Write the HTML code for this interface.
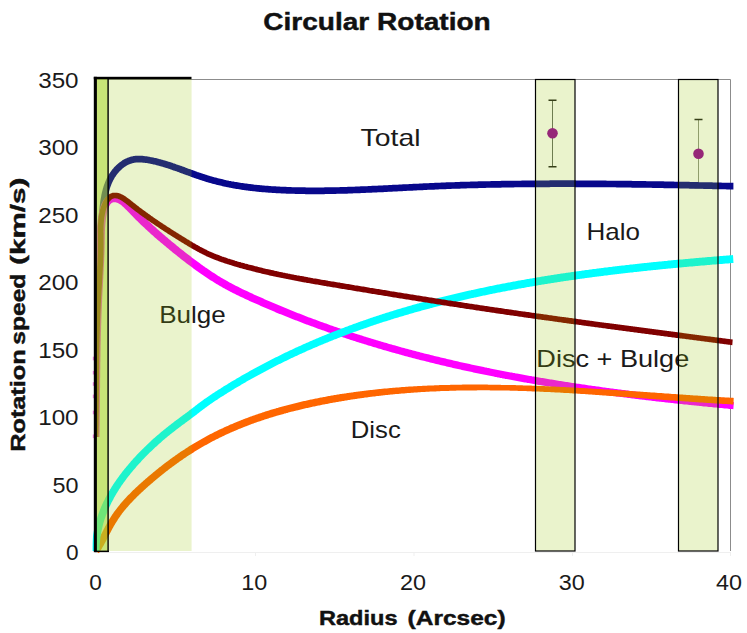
<!DOCTYPE html>
<html><head><meta charset="utf-8"><title>Circular Rotation</title>
<style>html,body{margin:0;padding:0;background:#fff;}body{width:747px;height:633px;overflow:hidden;font-family:"Liberation Sans",sans-serif;}svg{display:block}</style></head>
<body>
<svg width="747" height="633" viewBox="0 0 747 633" font-family="'Liberation Sans', sans-serif">
<rect width="747" height="633" fill="#ffffff"/>
<path d="M97,552.5 H731 M255.5,552 V556 M414,552 V556 M572.5,552 V556 M730.5,552 V556" fill="none" stroke="#efefef" stroke-width="1"/>
<path d="M97,79.5 H730.5 V551" fill="none" stroke="#8c8c8c" stroke-width="1"/>
<clipPath id="cp"><rect x="92.6" y="70" width="641.2" height="483.5"/></clipPath>
<clipPath id="cp2"><rect x="94" y="70" width="639.8" height="483.5"/></clipPath>
<path d="M552.5,100.2 V166.8" fill="none" stroke="#646b64" stroke-width="1"/><path d="M548.5,100.2 H556.5 M548.5,166.8 H556.5" fill="none" stroke="#1f1f1f" stroke-width="1.5"/><circle cx="552.5" cy="133.3" r="5.3" fill="#960096"/><path d="M698.5,119.6 V187.6" fill="none" stroke="#8f9488" stroke-width="1"/><path d="M694.5,119.6 H702.5 M694.5,187.6 H702.5" fill="none" stroke="#1f1f1f" stroke-width="1.5"/><circle cx="698.5" cy="153.8" r="5.3" fill="#960096"/>
<g clip-path="url(#cp2)">
<path d="M95.4,437.1 L95.4,435.8 L95.4,434.5 L95.5,433.2 L95.5,431.9 L95.5,430.6 L95.5,429.3 L95.6,428.0 L95.6,426.7 L95.6,425.5 L95.6,424.2 L95.6,422.9 L95.6,421.6 L95.7,420.3 L95.7,419.0 L95.7,417.7 L95.7,416.4 L95.7,415.1 L95.7,413.8 L95.8,412.5 L95.8,411.2 L95.8,410.0 L95.8,408.7 L95.8,407.4 L95.8,406.1 L95.8,404.8 L95.9,403.5 L95.9,402.2 L95.9,401.0 L95.9,399.7 L95.9,398.4 L95.9,397.1 L95.9,395.8 L95.9,394.5 L95.9,393.3 L96.0,392.0 L96.0,390.7 L96.0,389.4 L96.0,388.1 L96.0,386.9 L96.0,385.6 L96.0,384.3 L96.0,383.0 L96.0,381.7 L96.1,380.5 L96.1,379.2 L96.1,377.9 L96.1,376.6 L96.1,375.4 L96.1,374.1 L96.1,372.8 L96.1,371.5 L96.1,370.2 L96.2,369.0 L96.2,367.7 L96.2,366.4 L96.2,365.1 L96.2,363.9 L96.2,362.6 L96.2,361.3 L96.2,360.1 L96.2,358.8 L96.3,357.5 L96.3,356.2 L96.3,355.0 L96.3,353.7 L96.3,352.4 L96.3,351.1 L96.3,349.9 L96.4,348.6 L96.4,347.3 L96.4,346.1 L96.4,344.8 L96.4,343.5 L96.4,342.2 L96.4,341.0 L96.5,339.7 L96.5,338.4 L96.5,337.2 L96.5,335.9 L96.5,334.6 L96.6,333.3 L96.6,332.1 L96.6,330.8 L96.6,329.5 L96.6,328.3 L96.7,327.0 L96.7,325.7 L96.7,324.4 L96.7,323.2 L96.8,321.9 L96.8,320.6 L96.8,319.4 L96.8,318.1 L96.9,316.8 L96.9,315.5 L96.9,314.3 L96.9,313.0 L97.0,311.7 L97.0,310.5 L97.0,309.2 L97.1,307.9 L97.1,306.6 L97.1,305.4 L97.2,304.1 L97.2,302.8 L97.2,301.6 L97.3,300.3 L97.3,299.0 L97.3,297.7 L97.4,296.5 L97.4,295.2 L97.5,293.9 L97.5,292.6 L97.5,291.4 L97.6,290.1 L97.6,288.8 L97.7,287.5 L97.7,286.3 L97.8,285.0 L97.8,283.7 L97.9,282.4 L97.9,281.2 L98.0,279.9 L98.0,278.6 L98.1,277.3 L98.1,276.1 L98.2,274.8 L98.2,273.5 L98.3,272.2 L98.4,270.9 L98.4,269.7 L98.5,268.4 L98.5,267.1 L98.6,265.8 L98.7,264.5 L98.7,263.3 L98.8,262.0 L98.9,260.7 L98.9,259.4 L99.0,258.1 L99.1,256.8 L99.2,255.6 L99.2,254.3 L99.3,253.0 L99.4,251.7 L99.5,250.4 L99.5,249.1 L99.6,247.8 L99.7,246.6 L99.8,245.3 L99.9,244.0 L100.0,242.7 L100.0,241.4 L100.1,240.1 L100.2,238.8 L100.3,237.5 L100.4,236.2 L100.5,234.9 L100.6,233.7 L100.7,232.4 L100.8,231.1 L100.9,229.8 L101.0,228.5 L101.1,227.2 L101.2,225.9 L101.3,224.6 L101.4,223.3 L101.5,222.0 L101.7,220.7 L101.8,219.4 L101.9,218.1 L102.0,216.8 L102.1,215.5 L102.2,214.2 L102.4,212.9 L102.5,211.6 L102.6,210.3 L102.8,209.0 L102.9,207.7 L103.0,206.4 L103.2,205.1 L103.4,203.8 L103.5,202.5 L103.7,201.2 L103.9,199.9 L104.1,198.7 L104.4,197.4 L104.6,196.1 L104.8,194.9 L105.1,193.6 L105.4,192.4 L105.7,191.2 L106.0,189.9 L106.4,188.7 L106.7,187.5 L107.1,186.3 L107.5,185.2 L108.0,184.0 L108.4,182.8 L108.9,181.7 L109.4,180.6 L109.9,179.5 L110.5,178.4 L111.1,177.3 L111.7,176.2 L112.4,175.2 L113.1,174.1 L113.8,173.1 L114.5,172.1 L115.3,171.1 L116.2,170.2 L117.0,169.2 L117.9,168.3 L118.8,167.4 L119.8,166.5 L120.8,165.7 L121.8,164.9 L122.9,164.1 L123.9,163.4 L125.0,162.7 L126.2,162.1 L127.3,161.5 L128.5,161.0 L129.6,160.6 L130.8,160.2 L132.1,159.8 L133.3,159.6 L134.5,159.3 L135.8,159.2 L137.0,159.1 L138.3,159.1 L139.5,159.1 L140.8,159.1 L142.1,159.2 L143.4,159.3 L144.7,159.5 L145.9,159.6 L147.2,159.8 L148.5,160.0 L149.8,160.3 L151.0,160.5 L152.3,160.8 L153.6,161.1 L154.8,161.3 L156.1,161.6 L157.3,161.9 L158.6,162.3 L159.8,162.6 L161.0,162.9 L162.3,163.3 L163.5,163.6 L164.8,164.0 L166.0,164.4 L167.2,164.8 L168.4,165.1 L169.7,165.5 L170.9,165.9 L172.1,166.4 L173.3,166.8 L174.5,167.2 L175.7,167.6 L177.0,168.0 L178.2,168.5 L179.4,168.9 L180.6,169.3 L181.8,169.8 L183.0,170.2 L184.2,170.7 L185.4,171.1 L186.6,171.6 L187.8,172.0 L189.1,172.4 L190.3,172.9 L191.5,173.3 L192.7,173.8 L193.9,174.2 L195.1,174.6 L196.3,175.1 L197.5,175.5 L198.7,175.9 L199.9,176.3 L201.2,176.7 L202.4,177.1 L203.6,177.5 L204.8,177.9 L206.0,178.3 L207.3,178.7 L208.5,179.1 L209.7,179.4 L210.9,179.8 L212.2,180.1 L213.4,180.5 L214.6,180.8 L215.9,181.1 L217.1,181.4 L218.3,181.7 L219.6,182.0 L220.8,182.3 L222.1,182.6 L223.3,182.9 L224.6,183.2 L225.8,183.5 L227.0,183.7 L228.3,184.0 L229.6,184.2 L230.8,184.5 L232.1,184.7 L233.3,184.9 L234.6,185.2 L235.8,185.4 L237.1,185.6 L238.3,185.8 L239.6,186.0 L240.9,186.2 L242.1,186.4 L243.4,186.6 L244.7,186.8 L245.9,186.9 L247.2,187.1 L248.5,187.3 L249.7,187.4 L251.0,187.6 L252.3,187.7 L253.5,187.9 L254.8,188.0 L256.1,188.2 L257.4,188.3 L258.6,188.4 L259.9,188.6 L261.2,188.7 L262.5,188.8 L263.7,188.9 L265.0,189.0 L266.3,189.1 L267.6,189.2 L268.9,189.3 L270.1,189.4 L271.4,189.5 L272.7,189.6 L274.0,189.7 L275.3,189.7 L276.5,189.8 L277.8,189.9 L279.1,189.9 L280.4,190.0 L281.7,190.1 L282.9,190.1 L284.2,190.2 L285.5,190.2 L286.8,190.3 L288.1,190.3 L289.3,190.4 L290.6,190.4 L291.9,190.5 L293.2,190.5 L294.5,190.5 L295.7,190.6 L297.0,190.6 L298.3,190.6 L299.6,190.7 L300.9,190.7 L302.1,190.7 L303.4,190.7 L304.7,190.7 L306.0,190.8 L307.3,190.8 L308.5,190.8 L309.8,190.8 L311.1,190.8 L312.4,190.8 L313.7,190.8 L314.9,190.8 L316.2,190.8 L317.5,190.8 L318.8,190.8 L320.1,190.8 L321.3,190.8 L322.6,190.8 L323.9,190.8 L325.2,190.7 L326.5,190.7 L327.7,190.7 L329.0,190.7 L330.3,190.7 L331.6,190.6 L332.9,190.6 L334.1,190.6 L335.4,190.6 L336.7,190.5 L338.0,190.5 L339.3,190.5 L340.5,190.4 L341.8,190.4 L343.1,190.4 L344.4,190.3 L345.7,190.3 L346.9,190.3 L348.2,190.2 L349.5,190.2 L350.8,190.1 L352.1,190.1 L353.3,190.0 L354.6,190.0 L355.9,189.9 L357.2,189.9 L358.5,189.8 L359.7,189.8 L361.0,189.7 L362.3,189.7 L363.6,189.6 L364.9,189.6 L366.1,189.5 L367.4,189.5 L368.7,189.4 L370.0,189.4 L371.2,189.3 L372.5,189.2 L373.8,189.2 L375.1,189.1 L376.4,189.1 L377.6,189.0 L378.9,188.9 L380.2,188.9 L381.5,188.8 L382.8,188.8 L384.0,188.7 L385.3,188.6 L386.6,188.6 L387.9,188.5 L389.2,188.4 L390.4,188.4 L391.7,188.3 L393.0,188.2 L394.3,188.2 L395.6,188.1 L396.8,188.1 L398.1,188.0 L399.4,187.9 L400.7,187.9 L401.9,187.8 L403.2,187.7 L404.5,187.7 L405.8,187.6 L407.1,187.5 L408.3,187.5 L409.6,187.4 L410.9,187.3 L412.2,187.3 L413.5,187.2 L414.7,187.1 L416.0,187.1 L417.3,187.0 L418.6,187.0 L419.9,186.9 L421.1,186.8 L422.4,186.8 L423.7,186.7 L425.0,186.7 L426.3,186.6 L427.5,186.5 L428.8,186.5 L430.1,186.4 L431.4,186.4 L432.6,186.3 L433.9,186.3 L435.2,186.2 L436.5,186.1 L437.8,186.1 L439.0,186.0 L440.3,186.0 L441.6,185.9 L442.9,185.9 L444.2,185.8 L445.4,185.8 L446.7,185.7 L448.0,185.7 L449.3,185.6 L450.6,185.6 L451.8,185.5 L453.1,185.5 L454.4,185.5 L455.7,185.4 L457.0,185.4 L458.2,185.3 L459.5,185.3 L460.8,185.2 L462.1,185.2 L463.4,185.2 L464.6,185.1 L465.9,185.1 L467.2,185.0 L468.5,185.0 L469.8,185.0 L471.0,184.9 L472.3,184.9 L473.6,184.9 L474.9,184.8 L476.2,184.8 L477.4,184.8 L478.7,184.7 L480.0,184.7 L481.3,184.7 L482.6,184.6 L483.8,184.6 L485.1,184.6 L486.4,184.5 L487.7,184.5 L489.0,184.5 L490.2,184.5 L491.5,184.4 L492.8,184.4 L494.1,184.4 L495.4,184.4 L496.6,184.3 L497.9,184.3 L499.2,184.3 L500.5,184.3 L501.8,184.2 L503.0,184.2 L504.3,184.2 L505.6,184.2 L506.9,184.2 L508.2,184.1 L509.4,184.1 L510.7,184.1 L512.0,184.1 L513.3,184.1 L514.6,184.0 L515.9,184.0 L517.1,184.0 L518.4,184.0 L519.7,184.0 L521.0,184.0 L522.3,183.9 L523.5,183.9 L524.8,183.9 L526.1,183.9 L527.4,183.9 L528.7,183.9 L529.9,183.9 L531.2,183.9 L532.5,183.8 L533.8,183.8 L535.1,183.8 L536.3,183.8 L537.6,183.8 L538.9,183.8 L540.2,183.8 L541.5,183.8 L542.7,183.8 L544.0,183.8 L545.3,183.8 L546.6,183.8 L547.9,183.8 L549.1,183.8 L550.4,183.7 L551.7,183.7 L553.0,183.7 L554.3,183.7 L555.5,183.7 L556.8,183.7 L558.1,183.7 L559.4,183.7 L560.7,183.7 L561.9,183.7 L563.2,183.7 L564.5,183.7 L565.8,183.7 L567.1,183.7 L568.4,183.7 L569.6,183.7 L570.9,183.7 L572.2,183.7 L573.5,183.7 L574.8,183.7 L576.0,183.8 L577.3,183.8 L578.6,183.8 L579.9,183.8 L581.2,183.8 L582.4,183.8 L583.7,183.8 L585.0,183.8 L586.3,183.8 L587.6,183.8 L588.8,183.8 L590.1,183.8 L591.4,183.8 L592.7,183.8 L594.0,183.8 L595.2,183.9 L596.5,183.9 L597.8,183.9 L599.1,183.9 L600.4,183.9 L601.6,183.9 L602.9,183.9 L604.2,183.9 L605.5,183.9 L606.8,184.0 L608.1,184.0 L609.3,184.0 L610.6,184.0 L611.9,184.0 L613.2,184.0 L614.5,184.0 L615.7,184.0 L617.0,184.1 L618.3,184.1 L619.6,184.1 L620.9,184.1 L622.1,184.1 L623.4,184.1 L624.7,184.2 L626.0,184.2 L627.3,184.2 L628.5,184.2 L629.8,184.2 L631.1,184.2 L632.4,184.3 L633.7,184.3 L634.9,184.3 L636.2,184.3 L637.5,184.3 L638.8,184.3 L640.1,184.4 L641.3,184.4 L642.6,184.4 L643.9,184.4 L645.2,184.4 L646.5,184.5 L647.7,184.5 L649.0,184.5 L650.3,184.5 L651.6,184.5 L652.9,184.6 L654.1,184.6 L655.4,184.6 L656.7,184.6 L658.0,184.7 L659.3,184.7 L660.5,184.7 L661.8,184.7 L663.1,184.7 L664.4,184.8 L665.7,184.8 L666.9,184.8 L668.2,184.8 L669.5,184.9 L670.8,184.9 L672.1,184.9 L673.3,184.9 L674.6,185.0 L675.9,185.0 L677.2,185.0 L678.5,185.0 L679.8,185.1 L681.0,185.1 L682.3,185.1 L683.6,185.1 L684.9,185.2 L686.2,185.2 L687.4,185.2 L688.7,185.2 L690.0,185.3 L691.3,185.3 L692.5,185.3 L693.8,185.3 L695.1,185.4 L696.4,185.4 L697.7,185.4 L698.9,185.5 L700.2,185.5 L701.5,185.5 L702.8,185.5 L704.1,185.6 L705.3,185.6 L706.6,185.6 L707.9,185.6 L709.2,185.7 L710.5,185.7 L711.7,185.7 L713.0,185.8 L714.3,185.8 L715.6,185.8 L716.9,185.8 L718.1,185.9 L719.4,185.9 L720.7,185.9 L722.0,186.0 L723.3,186.0 L724.5,186.0 L725.8,186.0 L727.1,186.1 L728.4,186.1 L729.7,186.1 L730.9,186.2 L732.2,186.2 L733.5,186.2" fill="none" stroke="#08088c" stroke-width="6.7" stroke-linecap="butt" stroke-linejoin="round"/>
<path d="M99.5,437.1 L99.5,435.8 L99.5,434.5 L99.5,433.1 L99.6,431.8 L99.6,430.5 L99.6,429.2 L99.6,427.9 L99.6,426.6 L99.7,425.3 L99.7,424.0 L99.7,422.6 L99.7,421.3 L99.7,420.0 L99.7,418.7 L99.7,417.4 L99.8,416.1 L99.8,414.8 L99.8,413.5 L99.8,412.2 L99.8,410.9 L99.8,409.6 L99.8,408.3 L99.9,407.0 L99.9,405.7 L99.9,404.4 L99.9,403.1 L99.9,401.7 L99.9,400.4 L99.9,399.1 L99.9,397.8 L100.0,396.5 L100.0,395.2 L100.0,393.9 L100.0,392.6 L100.0,391.3 L100.0,390.0 L100.0,388.7 L100.1,387.4 L100.1,386.1 L100.1,384.8 L100.1,383.5 L100.1,382.2 L100.1,380.9 L100.1,379.6 L100.1,378.3 L100.2,377.0 L100.2,375.7 L100.2,374.4 L100.2,373.1 L100.2,371.8 L100.2,370.5 L100.3,369.2 L100.3,367.9 L100.3,366.6 L100.3,365.3 L100.3,364.0 L100.3,362.7 L100.4,361.4 L100.4,360.1 L100.4,358.8 L100.4,357.5 L100.5,356.2 L100.5,354.9 L100.5,353.6 L100.5,352.3 L100.5,351.0 L100.6,349.7 L100.6,348.4 L100.6,347.1 L100.6,345.8 L100.7,344.5 L100.7,343.2 L100.7,341.9 L100.8,340.6 L100.8,339.3 L100.8,338.0 L100.8,336.7 L100.9,335.4 L100.9,334.1 L100.9,332.8 L101.0,331.5 L101.0,330.2 L101.1,328.9 L101.1,327.6 L101.1,326.3 L101.2,325.0 L101.2,323.7 L101.3,322.4 L101.3,321.1 L101.3,319.8 L101.4,318.4 L101.4,317.1 L101.5,315.8 L101.5,314.5 L101.6,313.2 L101.6,311.9 L101.7,310.6 L101.7,309.3 L101.8,308.0 L101.8,306.7 L101.9,305.4 L101.9,304.1 L102.0,302.7 L102.1,301.4 L102.1,300.1 L102.2,298.8 L102.2,297.5 L102.3,296.2 L102.4,294.9 L102.4,293.5 L102.5,292.2 L102.6,290.9 L102.6,289.6 L102.7,288.3 L102.8,287.0 L102.9,285.7 L102.9,284.3 L103.0,283.0 L103.1,281.7 L103.1,280.4 L103.2,279.1 L103.3,277.8 L103.3,276.4 L103.4,275.1 L103.5,273.8 L103.5,272.5 L103.6,271.2 L103.7,269.9 L103.7,268.6 L103.8,267.3 L103.9,266.0 L103.9,264.6 L104.0,263.3 L104.1,262.0 L104.1,260.7 L104.2,259.4 L104.2,258.1 L104.3,256.8 L104.3,255.5 L104.4,254.3 L104.4,253.0 L104.5,251.7 L104.5,250.4 L104.5,249.1 L104.6,247.8 L104.6,246.5 L104.6,245.3 L104.7,244.0 L104.7,242.7 L104.7,241.4 L104.7,240.2 L104.8,238.9 L104.8,237.7 L104.8,236.4 L104.8,235.2 L104.9,233.9 L104.9,232.7 L104.9,231.4 L105.0,230.2 L105.0,229.0 L105.1,227.7 L105.2,226.5 L105.3,225.2 L105.4,223.9 L105.5,222.7 L105.7,221.4 L105.8,220.1 L106.0,218.8 L106.2,217.5 L106.4,216.2 L106.7,214.8 L106.9,213.5 L107.2,212.2 L107.6,210.9 L107.9,209.6 L108.3,208.4 L108.7,207.3 L109.2,206.3 L109.6,205.4 L110.1,204.6 L110.6,203.9 L111.1,203.4 L111.6,203.0 L112.1,202.7 L112.7,202.5 L113.4,202.3 L114.1,202.2 L114.9,202.2 L115.6,202.3 L116.3,202.4 L117.1,202.7 L117.9,203.0 L118.7,203.4 L119.5,203.9 L120.4,204.5 L121.2,205.1 L122.1,205.9 L123.0,206.7 L123.9,207.5 L124.8,208.4 L125.8,209.4 L126.7,210.3 L127.6,211.3 L128.6,212.3 L129.6,213.3 L130.5,214.3 L131.5,215.3 L132.5,216.3 L133.4,217.3 L134.4,218.3 L135.3,219.2 L136.3,220.2 L137.3,221.1 L138.2,222.1 L139.2,223.0 L140.2,223.9 L141.1,224.9 L142.1,225.8 L143.1,226.7 L144.1,227.6 L145.0,228.5 L146.0,229.4 L147.0,230.3 L147.9,231.2 L148.9,232.1 L149.9,233.0 L150.9,233.9 L151.8,234.8 L152.8,235.6 L153.8,236.5 L154.8,237.4 L155.8,238.2 L156.7,239.1 L157.7,239.9 L158.7,240.8 L159.7,241.6 L160.7,242.5 L161.7,243.3 L162.7,244.1 L163.7,245.0 L164.7,245.8 L165.7,246.6 L166.7,247.5 L167.7,248.3 L168.7,249.1 L169.7,249.9 L170.7,250.8 L171.7,251.6 L172.7,252.4 L173.7,253.2 L174.7,254.0 L175.7,254.8 L176.7,255.6 L177.8,256.4 L178.8,257.2 L179.8,258.1 L180.8,258.9 L181.9,259.7 L182.9,260.5 L183.9,261.3 L185.0,262.1 L186.0,262.9 L187.1,263.7 L188.1,264.5 L189.2,265.2 L190.2,266.0 L191.3,266.8 L192.3,267.6 L193.4,268.4 L194.5,269.2 L195.5,270.0 L196.6,270.7 L197.7,271.5 L198.7,272.3 L199.8,273.0 L200.9,273.8 L202.0,274.5 L203.1,275.3 L204.2,276.0 L205.3,276.8 L206.4,277.5 L207.5,278.2 L208.6,279.0 L209.7,279.7 L210.8,280.4 L212.0,281.1 L213.1,281.8 L214.2,282.5 L215.4,283.2 L216.5,283.9 L217.6,284.6 L218.8,285.3 L219.9,286.0 L221.1,286.6 L222.2,287.3 L223.4,287.9 L224.6,288.6 L225.7,289.2 L226.9,289.8 L228.1,290.5 L229.2,291.1 L230.4,291.7 L231.6,292.3 L232.8,292.9 L234.0,293.5 L235.1,294.1 L236.3,294.7 L237.5,295.3 L238.7,295.8 L239.9,296.4 L241.1,297.0 L242.3,297.5 L243.5,298.1 L244.7,298.7 L245.9,299.2 L247.1,299.8 L248.3,300.3 L249.5,300.9 L250.7,301.4 L251.9,301.9 L253.1,302.5 L254.3,303.0 L255.5,303.5 L256.7,304.1 L257.9,304.6 L259.1,305.1 L260.3,305.7 L261.5,306.2 L262.7,306.7 L263.9,307.2 L265.1,307.8 L266.3,308.3 L267.5,308.8 L268.7,309.3 L269.9,309.8 L271.1,310.3 L272.3,310.8 L273.5,311.3 L274.7,311.8 L275.9,312.4 L277.2,312.9 L278.4,313.4 L279.6,313.9 L280.8,314.3 L282.0,314.8 L283.2,315.3 L284.4,315.8 L285.6,316.3 L286.9,316.8 L288.1,317.3 L289.3,317.8 L290.5,318.3 L291.7,318.7 L292.9,319.2 L294.2,319.7 L295.4,320.2 L296.6,320.6 L297.8,321.1 L299.0,321.6 L300.3,322.1 L301.5,322.5 L302.7,323.0 L303.9,323.4 L305.2,323.9 L306.4,324.4 L307.6,324.8 L308.8,325.3 L310.1,325.7 L311.3,326.2 L312.5,326.6 L313.7,327.1 L315.0,327.5 L316.2,328.0 L317.4,328.4 L318.7,328.9 L319.9,329.3 L321.1,329.8 L322.4,330.2 L323.6,330.6 L324.8,331.1 L326.1,331.5 L327.3,331.9 L328.5,332.4 L329.8,332.8 L331.0,333.2 L332.2,333.7 L333.5,334.1 L334.7,334.5 L335.9,334.9 L337.2,335.3 L338.4,335.8 L339.7,336.2 L340.9,336.6 L342.1,337.0 L343.4,337.4 L344.6,337.8 L345.9,338.3 L347.1,338.7 L348.3,339.1 L349.6,339.5 L350.8,339.9 L352.1,340.3 L353.3,340.7 L354.6,341.1 L355.8,341.5 L357.0,341.9 L358.3,342.3 L359.5,342.7 L360.8,343.1 L362.0,343.4 L363.3,343.8 L364.5,344.2 L365.8,344.6 L367.0,345.0 L368.3,345.4 L369.5,345.8 L370.8,346.1 L372.0,346.5 L373.3,346.9 L374.5,347.3 L375.8,347.6 L377.0,348.0 L378.3,348.4 L379.5,348.8 L380.8,349.1 L382.0,349.5 L383.3,349.9 L384.5,350.2 L385.8,350.6 L387.1,350.9 L388.3,351.3 L389.6,351.7 L390.8,352.0 L392.1,352.4 L393.3,352.7 L394.6,353.1 L395.9,353.4 L397.1,353.8 L398.4,354.1 L399.6,354.5 L400.9,354.8 L402.2,355.2 L403.4,355.5 L404.7,355.9 L405.9,356.2 L407.2,356.5 L408.5,356.9 L409.7,357.2 L411.0,357.5 L412.3,357.9 L413.5,358.2 L414.8,358.5 L416.1,358.9 L417.3,359.2 L418.6,359.5 L419.9,359.9 L421.1,360.2 L422.4,360.5 L423.7,360.8 L424.9,361.1 L426.2,361.5 L427.5,361.8 L428.7,362.1 L430.0,362.4 L431.3,362.7 L432.5,363.0 L433.8,363.3 L435.1,363.7 L436.3,364.0 L437.6,364.3 L438.9,364.6 L440.2,364.9 L441.4,365.2 L442.7,365.5 L444.0,365.8 L445.3,366.1 L446.5,366.4 L447.8,366.7 L449.1,367.0 L450.3,367.3 L451.6,367.6 L452.9,367.9 L454.2,368.2 L455.4,368.4 L456.7,368.7 L458.0,369.0 L459.3,369.3 L460.6,369.6 L461.8,369.9 L463.1,370.2 L464.4,370.4 L465.7,370.7 L466.9,371.0 L468.2,371.3 L469.5,371.6 L470.8,371.8 L472.1,372.1 L473.3,372.4 L474.6,372.7 L475.9,372.9 L477.2,373.2 L478.5,373.5 L479.7,373.7 L481.0,374.0 L482.3,374.3 L483.6,374.5 L484.9,374.8 L486.2,375.1 L487.4,375.3 L488.7,375.6 L490.0,375.8 L491.3,376.1 L492.6,376.3 L493.9,376.6 L495.1,376.9 L496.4,377.1 L497.7,377.4 L499.0,377.6 L500.3,377.9 L501.6,378.1 L502.8,378.4 L504.1,378.6 L505.4,378.9 L506.7,379.1 L508.0,379.3 L509.3,379.6 L510.6,379.8 L511.9,380.1 L513.1,380.3 L514.4,380.5 L515.7,380.8 L517.0,381.0 L518.3,381.3 L519.6,381.5 L520.9,381.7 L522.2,382.0 L523.4,382.2 L524.7,382.4 L526.0,382.6 L527.3,382.9 L528.6,383.1 L529.9,383.3 L531.2,383.6 L532.5,383.8 L533.8,384.0 L535.1,384.2 L536.4,384.4 L537.6,384.7 L538.9,384.9 L540.2,385.1 L541.5,385.3 L542.8,385.5 L544.1,385.8 L545.4,386.0 L546.7,386.2 L548.0,386.4 L549.3,386.6 L550.6,386.8 L551.9,387.0 L553.2,387.2 L554.4,387.4 L555.7,387.7 L557.0,387.9 L558.3,388.1 L559.6,388.3 L560.9,388.5 L562.2,388.7 L563.5,388.9 L564.8,389.1 L566.1,389.3 L567.4,389.5 L568.7,389.7 L570.0,389.9 L571.3,390.1 L572.6,390.3 L573.9,390.5 L575.2,390.7 L576.5,390.9 L577.7,391.0 L579.0,391.2 L580.3,391.4 L581.6,391.6 L582.9,391.8 L584.2,392.0 L585.5,392.2 L586.8,392.4 L588.1,392.6 L589.4,392.7 L590.7,392.9 L592.0,393.1 L593.3,393.3 L594.6,393.5 L595.9,393.7 L597.2,393.8 L598.5,394.0 L599.8,394.2 L601.1,394.4 L602.4,394.6 L603.7,394.7 L605.0,394.9 L606.3,395.1 L607.6,395.3 L608.9,395.4 L610.2,395.6 L611.5,395.8 L612.8,395.9 L614.1,396.1 L615.4,396.3 L616.7,396.5 L618.0,396.6 L619.3,396.8 L620.6,397.0 L621.9,397.1 L623.2,397.3 L624.4,397.5 L625.7,397.6 L627.0,397.8 L628.3,397.9 L629.6,398.1 L630.9,398.3 L632.2,398.4 L633.5,398.6 L634.8,398.7 L636.1,398.9 L637.4,399.1 L638.7,399.2 L640.0,399.4 L641.3,399.5 L642.6,399.7 L643.9,399.8 L645.2,400.0 L646.5,400.2 L647.8,400.3 L649.1,400.5 L650.4,400.6 L651.7,400.8 L653.0,400.9 L654.3,401.1 L655.6,401.2 L656.9,401.4 L658.2,401.5 L659.5,401.7 L660.8,401.8 L662.1,402.0 L663.4,402.1 L664.7,402.2 L666.0,402.4 L667.3,402.5 L668.6,402.7 L669.9,402.8 L671.2,403.0 L672.5,403.1 L673.8,403.2 L675.1,403.4 L676.4,403.5 L677.7,403.7 L679.0,403.8 L680.3,403.9 L681.6,404.1 L682.9,404.2 L684.2,404.4 L685.5,404.5 L686.8,404.6 L688.1,404.8 L689.4,404.9 L690.7,405.0 L692.0,405.2 L693.3,405.3 L694.6,405.4 L695.9,405.6 L697.2,405.7 L698.5,405.8 L699.7,406.0 L701.0,406.1 L702.3,406.2 L703.6,406.4 L704.9,406.5 L706.2,406.6 L707.5,406.7 L708.8,406.9 L710.1,407.0 L711.4,407.1 L712.7,407.2 L714.0,407.4 L715.3,407.5 L716.6,407.6 L717.9,407.8 L719.2,407.9 L720.5,408.0 L721.8,408.1 L723.1,408.2 L724.4,408.4 L725.7,408.5 L727.0,408.6 L728.3,408.7 L729.6,408.9 L730.8,409.0 L732.1,409.1 L733.4,409.2 L734.1,402.1 L732.8,401.9 L731.5,401.8 L730.2,401.7 L728.9,401.6 L727.6,401.4 L726.3,401.3 L725.1,401.2 L723.8,401.1 L722.5,401.0 L721.2,400.8 L719.9,400.7 L718.6,400.6 L717.3,400.5 L716.0,400.3 L714.7,400.2 L713.4,400.1 L712.1,399.9 L710.8,399.8 L709.5,399.7 L708.2,399.6 L706.9,399.4 L705.7,399.3 L704.4,399.2 L703.1,399.0 L701.8,398.9 L700.5,398.8 L699.2,398.7 L697.9,398.5 L696.6,398.4 L695.3,398.3 L694.0,398.1 L692.7,398.0 L691.4,397.9 L690.1,397.7 L688.8,397.6 L687.5,397.4 L686.2,397.3 L684.9,397.2 L683.6,397.0 L682.3,396.9 L681.1,396.8 L679.8,396.6 L678.5,396.5 L677.2,396.3 L675.9,396.2 L674.6,396.1 L673.3,395.9 L672.0,395.8 L670.7,395.6 L669.4,395.5 L668.1,395.3 L666.8,395.2 L665.5,395.1 L664.2,394.9 L662.9,394.8 L661.6,394.6 L660.3,394.5 L659.0,394.3 L657.7,394.2 L656.4,394.0 L655.1,393.9 L653.9,393.7 L652.6,393.6 L651.3,393.4 L650.0,393.3 L648.7,393.1 L647.4,393.0 L646.1,392.8 L644.8,392.7 L643.5,392.5 L642.2,392.3 L640.9,392.2 L639.6,392.0 L638.3,391.9 L637.0,391.7 L635.7,391.6 L634.4,391.4 L633.1,391.2 L631.8,391.1 L630.5,390.9 L629.2,390.7 L628.0,390.6 L626.7,390.4 L625.4,390.3 L624.1,390.1 L622.8,389.9 L621.5,389.8 L620.2,389.6 L618.9,389.4 L617.6,389.3 L616.3,389.1 L615.0,388.9 L613.7,388.7 L612.4,388.6 L611.1,388.4 L609.8,388.2 L608.5,388.1 L607.2,387.9 L606.0,387.7 L604.7,387.5 L603.4,387.4 L602.1,387.2 L600.8,387.0 L599.5,386.8 L598.2,386.6 L596.9,386.5 L595.6,386.3 L594.3,386.1 L593.0,385.9 L591.7,385.7 L590.4,385.5 L589.1,385.4 L587.9,385.2 L586.6,385.0 L585.3,384.8 L584.0,384.6 L582.7,384.4 L581.4,384.2 L580.1,384.0 L578.8,383.8 L577.5,383.7 L576.2,383.5 L574.9,383.3 L573.7,383.1 L572.4,382.9 L571.1,382.7 L569.8,382.5 L568.5,382.3 L567.2,382.1 L565.9,381.9 L564.6,381.7 L563.3,381.5 L562.0,381.3 L560.8,381.1 L559.5,380.9 L558.2,380.7 L556.9,380.5 L555.6,380.2 L554.3,380.0 L553.0,379.8 L551.7,379.6 L550.5,379.4 L549.2,379.2 L547.9,379.0 L546.6,378.8 L545.3,378.6 L544.0,378.3 L542.7,378.1 L541.4,377.9 L540.2,377.7 L538.9,377.5 L537.6,377.3 L536.3,377.0 L535.0,376.8 L533.7,376.6 L532.4,376.4 L531.2,376.1 L529.9,375.9 L528.6,375.7 L527.3,375.5 L526.0,375.2 L524.7,375.0 L523.5,374.8 L522.2,374.5 L520.9,374.3 L519.6,374.1 L518.3,373.8 L517.0,373.6 L515.8,373.4 L514.5,373.1 L513.2,372.9 L511.9,372.6 L510.6,372.4 L509.4,372.2 L508.1,371.9 L506.8,371.7 L505.5,371.4 L504.2,371.2 L503.0,370.9 L501.7,370.7 L500.4,370.4 L499.1,370.2 L497.8,369.9 L496.6,369.7 L495.3,369.4 L494.0,369.2 L492.7,368.9 L491.4,368.7 L490.2,368.4 L488.9,368.1 L487.6,367.9 L486.3,367.6 L485.1,367.4 L483.8,367.1 L482.5,366.8 L481.2,366.6 L480.0,366.3 L478.7,366.0 L477.4,365.8 L476.1,365.5 L474.9,365.2 L473.6,364.9 L472.3,364.7 L471.1,364.4 L469.8,364.1 L468.5,363.8 L467.2,363.6 L466.0,363.3 L464.7,363.0 L463.4,362.7 L462.2,362.4 L460.9,362.2 L459.6,361.9 L458.3,361.6 L457.1,361.3 L455.8,361.0 L454.5,360.7 L453.3,360.4 L452.0,360.1 L450.7,359.8 L449.5,359.5 L448.2,359.2 L446.9,358.9 L445.7,358.6 L444.4,358.3 L443.1,358.0 L441.9,357.7 L440.6,357.4 L439.3,357.1 L438.1,356.8 L436.8,356.5 L435.6,356.2 L434.3,355.9 L433.0,355.6 L431.8,355.3 L430.5,355.0 L429.2,354.6 L428.0,354.3 L426.7,354.0 L425.5,353.7 L424.2,353.4 L422.9,353.1 L421.7,352.7 L420.4,352.4 L419.2,352.1 L417.9,351.8 L416.7,351.4 L415.4,351.1 L414.1,350.8 L412.9,350.4 L411.6,350.1 L410.4,349.8 L409.1,349.4 L407.9,349.1 L406.6,348.8 L405.4,348.4 L404.1,348.1 L402.8,347.7 L401.6,347.4 L400.3,347.0 L399.1,346.7 L397.8,346.3 L396.6,346.0 L395.3,345.6 L394.1,345.3 L392.8,344.9 L391.6,344.6 L390.3,344.2 L389.1,343.9 L387.8,343.5 L386.6,343.1 L385.4,342.8 L384.1,342.4 L382.9,342.1 L381.6,341.7 L380.4,341.3 L379.1,340.9 L377.9,340.6 L376.6,340.2 L375.4,339.8 L374.2,339.5 L372.9,339.1 L371.7,338.7 L370.4,338.3 L369.2,337.9 L367.9,337.6 L366.7,337.2 L365.5,336.8 L364.2,336.4 L363.0,336.0 L361.8,335.6 L360.5,335.2 L359.3,334.8 L358.0,334.4 L356.8,334.0 L355.6,333.7 L354.3,333.3 L353.1,332.9 L351.9,332.5 L350.6,332.0 L349.4,331.6 L348.2,331.2 L346.9,330.8 L345.7,330.4 L344.5,330.0 L343.2,329.6 L342.0,329.2 L340.8,328.8 L339.6,328.3 L338.3,327.9 L337.1,327.5 L335.9,327.1 L334.6,326.7 L333.4,326.2 L332.2,325.8 L331.0,325.4 L329.7,325.0 L328.5,324.5 L327.3,324.1 L326.1,323.6 L324.9,323.2 L323.6,322.8 L322.4,322.3 L321.2,321.9 L320.0,321.4 L318.8,321.0 L317.5,320.5 L316.3,320.1 L315.1,319.6 L313.9,319.2 L312.7,318.7 L311.5,318.3 L310.2,317.8 L309.0,317.4 L307.8,316.9 L306.6,316.4 L305.4,316.0 L304.2,315.5 L303.0,315.0 L301.8,314.6 L300.5,314.1 L299.3,313.6 L298.1,313.2 L296.9,312.7 L295.7,312.2 L294.5,311.7 L293.3,311.2 L292.1,310.8 L290.9,310.3 L289.7,309.8 L288.5,309.3 L287.3,308.8 L286.1,308.3 L284.9,307.8 L283.7,307.3 L282.5,306.8 L281.3,306.3 L280.1,305.8 L278.9,305.3 L277.7,304.8 L276.5,304.3 L275.3,303.8 L274.1,303.3 L272.9,302.8 L271.7,302.3 L270.5,301.8 L269.3,301.2 L268.1,300.7 L266.9,300.2 L265.7,299.7 L264.5,299.2 L263.3,298.6 L262.2,298.1 L261.0,297.6 L259.8,297.1 L258.6,296.5 L257.4,296.0 L256.2,295.5 L255.0,294.9 L253.8,294.4 L252.7,293.8 L251.5,293.3 L250.3,292.7 L249.1,292.2 L247.9,291.6 L246.8,291.1 L245.6,290.5 L244.4,290.0 L243.3,289.4 L242.1,288.9 L240.9,288.3 L239.8,287.7 L238.6,287.1 L237.5,286.6 L236.3,286.0 L235.2,285.4 L234.0,284.8 L232.9,284.2 L231.7,283.6 L230.6,283.0 L229.5,282.4 L228.3,281.7 L227.2,281.1 L226.1,280.5 L225.0,279.8 L223.9,279.2 L222.7,278.6 L221.6,277.9 L220.5,277.2 L219.4,276.6 L218.3,275.9 L217.2,275.2 L216.2,274.5 L215.1,273.8 L214.0,273.1 L212.9,272.4 L211.8,271.7 L210.7,271.0 L209.7,270.3 L208.6,269.6 L207.5,268.8 L206.5,268.1 L205.4,267.4 L204.3,266.6 L203.3,265.9 L202.2,265.1 L201.2,264.4 L200.1,263.6 L199.1,262.8 L198.0,262.1 L197.0,261.3 L196.0,260.5 L194.9,259.8 L193.9,259.0 L192.8,258.2 L191.8,257.4 L190.8,256.6 L189.8,255.8 L188.7,255.0 L187.7,254.3 L186.7,253.5 L185.7,252.7 L184.7,251.9 L183.7,251.1 L182.6,250.3 L181.6,249.5 L180.6,248.7 L179.6,247.9 L178.6,247.1 L177.6,246.3 L176.6,245.4 L175.6,244.6 L174.7,243.8 L173.7,243.0 L172.7,242.2 L171.7,241.4 L170.7,240.6 L169.7,239.8 L168.7,238.9 L167.8,238.1 L166.8,237.3 L165.8,236.5 L164.8,235.6 L163.9,234.8 L162.9,233.9 L161.9,233.1 L161.0,232.3 L160.0,231.4 L159.0,230.6 L158.1,229.7 L157.1,228.9 L156.2,228.0 L155.2,227.1 L154.2,226.3 L153.3,225.4 L152.3,224.5 L151.4,223.6 L150.4,222.7 L149.5,221.8 L148.5,220.9 L147.6,220.0 L146.6,219.1 L145.7,218.2 L144.7,217.3 L143.8,216.4 L142.8,215.5 L141.9,214.5 L140.9,213.6 L140.0,212.6 L139.1,211.7 L138.1,210.7 L137.2,209.8 L136.2,208.8 L135.3,207.8 L134.3,206.8 L133.4,205.9 L132.4,204.8 L131.5,203.8 L130.5,202.8 L129.4,201.8 L128.4,200.8 L127.3,199.9 L126.2,198.9 L125.0,198.0 L123.8,197.2 L122.6,196.4 L121.2,195.8 L119.8,195.2 L118.3,194.7 L116.8,194.4 L115.2,194.3 L113.6,194.3 L111.9,194.5 L110.2,194.9 L108.6,195.6 L107.1,196.5 L105.8,197.5 L104.6,198.7 L103.6,200.0 L102.7,201.4 L102.0,202.8 L101.3,204.3 L100.8,205.8 L100.3,207.3 L99.8,208.8 L99.5,210.3 L99.1,211.8 L98.8,213.3 L98.6,214.8 L98.3,216.2 L98.1,217.6 L97.9,219.1 L97.7,220.5 L97.6,221.8 L97.4,223.2 L97.3,224.6 L97.2,225.9 L97.1,227.2 L97.1,228.5 L97.0,229.8 L96.9,231.1 L96.9,232.4 L96.9,233.7 L96.8,235.0 L96.8,236.3 L96.8,237.5 L96.8,238.8 L96.8,240.0 L96.7,241.3 L96.7,242.6 L96.7,243.8 L96.7,245.1 L96.6,246.3 L96.6,247.6 L96.6,248.9 L96.5,250.1 L96.5,251.4 L96.4,252.7 L96.4,254.0 L96.3,255.2 L96.3,256.5 L96.2,257.8 L96.2,259.1 L96.1,260.4 L96.1,261.7 L96.0,263.0 L95.9,264.3 L95.9,265.6 L95.8,266.9 L95.8,268.2 L95.7,269.5 L95.6,270.8 L95.6,272.1 L95.5,273.4 L95.4,274.7 L95.4,276.0 L95.3,277.3 L95.2,278.6 L95.1,280.0 L95.1,281.3 L95.0,282.6 L94.9,283.9 L94.9,285.2 L94.8,286.5 L94.7,287.9 L94.7,289.2 L94.6,290.5 L94.5,291.8 L94.5,293.1 L94.4,294.5 L94.3,295.8 L94.3,297.1 L94.2,298.4 L94.1,299.7 L94.1,301.1 L94.0,302.4 L94.0,303.7 L93.9,305.0 L93.8,306.3 L93.8,307.7 L93.7,309.0 L93.7,310.3 L93.6,311.6 L93.6,312.9 L93.5,314.2 L93.5,315.5 L93.4,316.9 L93.4,318.2 L93.3,319.5 L93.3,320.8 L93.3,322.1 L93.2,323.4 L93.2,324.7 L93.1,326.0 L93.1,327.3 L93.1,328.7 L93.0,330.0 L93.0,331.3 L93.0,332.6 L92.9,333.9 L92.9,335.2 L92.9,336.5 L92.8,337.8 L92.8,339.1 L92.8,340.4 L92.7,341.7 L92.7,343.0 L92.7,344.3 L92.6,345.6 L92.6,347.0 L92.6,348.3 L92.6,349.6 L92.5,350.9 L92.5,352.2 L92.5,353.5 L92.5,354.8 L92.5,356.1 L92.4,357.4 L92.4,358.7 L92.4,360.0 L92.4,361.3 L92.4,362.6 L92.3,363.9 L92.3,365.2 L92.3,366.5 L92.3,367.8 L92.3,369.1 L92.2,370.4 L92.2,371.7 L92.2,373.0 L92.2,374.3 L92.2,375.6 L92.2,376.9 L92.2,378.2 L92.1,379.5 L92.1,380.8 L92.1,382.1 L92.1,383.4 L92.1,384.7 L92.1,386.0 L92.1,387.3 L92.0,388.6 L92.0,389.9 L92.0,391.2 L92.0,392.5 L92.0,393.8 L92.0,395.2 L92.0,396.5 L92.0,397.8 L91.9,399.1 L91.9,400.4 L91.9,401.7 L91.9,403.0 L91.9,404.3 L91.9,405.6 L91.9,406.9 L91.8,408.2 L91.8,409.5 L91.8,410.8 L91.8,412.1 L91.8,413.4 L91.8,414.7 L91.8,416.0 L91.7,417.3 L91.7,418.6 L91.7,419.9 L91.7,421.2 L91.7,422.6 L91.7,423.9 L91.7,425.2 L91.6,426.5 L91.6,427.8 L91.6,429.1 L91.6,430.4 L91.6,431.7 L91.6,433.0 L91.5,434.3 L91.5,435.6 L91.5,437.0Z" fill="#ff00ff" stroke="none"/>
</g><g clip-path="url(#cp)">
<path d="M98.8,553.2 L99.4,552.4 L99.9,551.5 L100.5,550.6 L101.0,549.8 L101.6,548.9 L102.1,548.0 L102.6,547.1 L103.1,546.2 L103.6,545.4 L104.1,544.5 L104.6,543.6 L105.1,542.7 L105.6,541.8 L106.1,540.9 L106.5,540.0 L107.0,539.1 L107.5,538.2 L107.9,537.3 L108.4,536.5 L108.8,535.6 L109.3,534.7 L109.7,533.8 L110.2,532.9 L110.7,532.1 L111.1,531.2 L111.6,530.3 L112.0,529.5 L112.5,528.6 L113.0,527.8 L113.4,526.9 L113.9,526.1 L114.4,525.2 L114.9,524.4 L115.4,523.6 L115.9,522.8 L116.4,522.0 L116.9,521.2 L117.4,520.4 L117.9,519.6 L118.4,518.8 L119.0,518.0 L119.5,517.2 L120.1,516.4 L120.6,515.6 L121.2,514.9 L121.7,514.1 L122.3,513.3 L122.9,512.6 L123.5,511.8 L124.1,511.1 L124.7,510.3 L125.3,509.6 L125.9,508.9 L126.5,508.1 L127.1,507.4 L127.8,506.7 L128.4,505.9 L129.0,505.2 L129.7,504.5 L130.3,503.8 L131.0,503.1 L131.7,502.4 L132.3,501.7 L133.0,501.0 L133.7,500.3 L134.3,499.6 L135.0,498.9 L135.7,498.2 L136.4,497.5 L137.1,496.8 L137.8,496.1 L138.5,495.4 L139.2,494.8 L139.9,494.1 L140.6,493.4 L141.3,492.7 L142.0,492.1 L142.8,491.4 L143.5,490.7 L144.2,490.1 L144.9,489.4 L145.7,488.8 L146.4,488.1 L147.1,487.4 L147.9,486.8 L148.6,486.1 L149.4,485.5 L150.1,484.8 L150.9,484.2 L151.6,483.5 L152.4,482.9 L153.1,482.2 L153.9,481.6 L154.6,481.0 L155.4,480.3 L156.1,479.7 L156.9,479.1 L157.6,478.4 L158.4,477.8 L159.2,477.2 L159.9,476.5 L160.7,475.9 L161.5,475.3 L162.2,474.7 L163.0,474.1 L163.8,473.4 L164.6,472.8 L165.3,472.2 L166.1,471.6 L166.9,471.0 L167.7,470.4 L168.4,469.8 L169.2,469.2 L170.0,468.6 L170.8,468.0 L171.6,467.4 L172.4,466.8 L173.2,466.2 L174.0,465.7 L174.8,465.1 L175.6,464.5 L176.4,463.9 L177.2,463.3 L178.0,462.8 L178.8,462.2 L179.6,461.6 L180.4,461.1 L181.2,460.5 L182.0,459.9 L182.8,459.4 L183.6,458.8 L184.4,458.3 L185.2,457.7 L186.1,457.2 L186.9,456.6 L187.7,456.1 L188.5,455.5 L189.3,455.0 L190.2,454.5 L191.0,453.9 L191.8,453.4 L192.6,452.9 L193.5,452.4 L194.3,451.8 L195.1,451.3 L196.0,450.8 L196.8,450.3 L197.7,449.8 L198.5,449.3 L199.3,448.8 L200.2,448.3 L201.0,447.8 L201.9,447.3 L202.7,446.8 L203.6,446.3 L204.4,445.8 L205.3,445.3 L206.1,444.9 L207.0,444.4 L207.8,443.9 L208.7,443.4 L209.6,443.0 L210.4,442.5 L211.3,442.1 L212.2,441.6 L213.0,441.1 L213.9,440.7 L214.8,440.2 L215.6,439.8 L216.5,439.3 L217.4,438.9 L218.3,438.5 L219.1,438.0 L220.0,437.6 L220.9,437.2 L221.8,436.7 L222.7,436.3 L223.5,435.9 L224.4,435.5 L225.3,435.1 L226.2,434.6 L227.1,434.2 L228.0,433.8 L228.9,433.4 L229.8,433.0 L230.7,432.6 L231.6,432.2 L232.5,431.8 L233.4,431.4 L234.3,431.0 L235.2,430.7 L236.1,430.3 L237.0,429.9 L237.9,429.5 L238.8,429.1 L239.7,428.8 L240.6,428.4 L241.5,428.0 L242.4,427.7 L243.3,427.3 L244.2,426.9 L245.2,426.6 L246.1,426.2 L247.0,425.9 L247.9,425.5 L248.8,425.2 L249.8,424.8 L250.7,424.5 L251.6,424.1 L252.5,423.8 L253.5,423.5 L254.4,423.1 L255.3,422.8 L256.2,422.5 L257.2,422.1 L258.1,421.8 L259.0,421.5 L260.0,421.2 L260.9,420.9 L261.8,420.5 L262.8,420.2 L263.7,419.9 L264.6,419.6 L265.6,419.3 L266.5,419.0 L267.4,418.7 L268.4,418.4 L269.3,418.1 L270.3,417.8 L271.2,417.5 L272.2,417.2 L273.1,416.9 L274.1,416.6 L275.0,416.4 L275.9,416.1 L276.9,415.8 L277.8,415.5 L278.8,415.2 L279.7,415.0 L280.7,414.7 L281.6,414.4 L282.6,414.2 L283.6,413.9 L284.5,413.6 L285.5,413.4 L286.4,413.1 L287.4,412.9 L288.3,412.6 L289.3,412.3 L290.2,412.1 L291.2,411.8 L292.2,411.6 L293.1,411.4 L294.1,411.1 L295.0,410.9 L296.0,410.6 L297.0,410.4 L297.9,410.2 L298.9,409.9 L299.9,409.7 L300.8,409.5 L301.8,409.2 L302.7,409.0 L303.7,408.8 L304.7,408.6 L305.6,408.3 L306.6,408.1 L307.6,407.9 L308.5,407.7 L309.5,407.5 L310.5,407.3 L311.5,407.0 L312.4,406.8 L313.4,406.6 L314.4,406.4 L315.3,406.2 L316.3,406.0 L317.3,405.8 L318.2,405.6 L319.2,405.4 L320.2,405.2 L321.2,405.0 L322.1,404.8 L323.1,404.6 L324.1,404.4 L325.0,404.2 L326.0,404.1 L327.0,403.9 L328.0,403.7 L328.9,403.5 L329.9,403.3 L330.9,403.1 L331.9,402.9 L332.8,402.8 L333.8,402.6 L334.8,402.4 L335.8,402.2 L336.7,402.1 L337.7,401.9 L338.7,401.7 L339.6,401.5 L340.6,401.4 L341.6,401.2 L342.6,401.0 L343.5,400.9 L344.5,400.7 L345.5,400.5 L346.5,400.4 L347.5,400.2 L348.4,400.1 L349.4,399.9 L350.4,399.8 L351.4,399.6 L352.3,399.5 L353.3,399.3 L354.3,399.2 L355.3,399.0 L356.2,398.9 L357.2,398.7 L358.2,398.6 L359.2,398.4 L360.2,398.3 L361.1,398.2 L362.1,398.0 L363.1,397.9 L364.1,397.7 L365.0,397.6 L366.0,397.5 L367.0,397.4 L368.0,397.2 L369.0,397.1 L369.9,397.0 L370.9,396.8 L371.9,396.7 L372.9,396.6 L373.9,396.5 L374.8,396.4 L375.8,396.2 L376.8,396.1 L377.8,396.0 L378.8,395.9 L379.7,395.8 L380.7,395.7 L381.7,395.6 L382.7,395.4 L383.7,395.3 L384.7,395.2 L385.6,395.1 L386.6,395.0 L387.6,394.9 L388.6,394.8 L389.6,394.7 L390.6,394.6 L391.5,394.5 L392.5,394.4 L393.5,394.3 L394.5,394.2 L395.5,394.1 L396.4,394.0 L397.4,394.0 L398.4,393.9 L399.4,393.8 L400.4,393.7 L401.4,393.6 L402.4,393.5 L403.3,393.4 L404.3,393.4 L405.3,393.3 L406.3,393.2 L407.3,393.1 L408.3,393.0 L409.2,393.0 L410.2,392.9 L411.2,392.8 L412.2,392.7 L413.2,392.7 L414.2,392.6 L415.2,392.5 L416.1,392.5 L417.1,392.4 L418.1,392.3 L419.1,392.3 L420.1,392.2 L421.1,392.1 L422.1,392.1 L423.0,392.0 L424.0,392.0 L425.0,391.9 L426.0,391.8 L427.0,391.8 L428.0,391.7 L429.0,391.7 L430.0,391.6 L430.9,391.6 L431.9,391.5 L432.9,391.5 L433.9,391.4 L434.9,391.4 L435.9,391.4 L436.9,391.3 L437.9,391.3 L438.9,391.2 L439.8,391.2 L440.8,391.1 L441.8,391.1 L442.8,391.1 L443.8,391.0 L444.8,391.0 L445.8,391.0 L446.8,390.9 L447.8,390.9 L448.7,390.9 L449.7,390.8 L450.7,390.8 L451.7,390.8 L452.7,390.7 L453.7,390.7 L454.7,390.7 L455.7,390.7 L456.7,390.6 L457.6,390.6 L458.6,390.6 L459.6,390.6 L460.6,390.6 L461.6,390.5 L462.6,390.5 L463.6,390.5 L464.6,390.5 L465.6,390.5 L466.6,390.5 L467.6,390.4 L468.5,390.4 L469.5,390.4 L470.5,390.4 L471.5,390.4 L472.5,390.4 L473.5,390.4 L474.5,390.4 L475.5,390.4 L476.5,390.4 L477.5,390.3 L478.5,390.3 L479.5,390.3 L480.4,390.3 L481.4,390.3 L482.4,390.3 L483.4,390.3 L484.4,390.3 L485.4,390.3 L486.4,390.3 L487.4,390.3 L488.4,390.3 L489.4,390.3 L490.4,390.4 L491.4,390.4 L492.4,390.4 L493.3,390.4 L494.3,390.4 L495.3,390.4 L496.3,390.4 L497.3,390.4 L498.3,390.4 L499.3,390.4 L500.3,390.4 L501.3,390.5 L502.3,390.5 L503.3,390.5 L504.3,390.5 L505.3,390.5 L506.3,390.6 L507.2,390.6 L508.2,390.6 L509.2,390.6 L510.2,390.7 L511.2,390.7 L512.2,390.7 L513.2,390.7 L514.2,390.8 L515.2,390.8 L516.2,390.8 L517.2,390.8 L518.2,390.9 L519.2,390.9 L520.2,390.9 L521.2,391.0 L522.2,391.0 L523.1,391.0 L524.1,391.1 L525.1,391.1 L526.1,391.1 L527.1,391.2 L528.1,391.2 L529.1,391.2 L530.1,391.3 L531.1,391.3 L532.1,391.4 L533.1,391.4 L534.1,391.4 L535.1,391.5 L536.1,391.5 L537.1,391.6 L538.1,391.6 L539.1,391.6 L540.0,391.7 L541.0,391.7 L542.0,391.8 L543.0,391.8 L544.0,391.9 L545.0,391.9 L546.0,392.0 L547.0,392.0 L548.0,392.0 L549.0,392.1 L550.0,392.1 L551.0,392.2 L552.0,392.2 L553.0,392.3 L554.0,392.3 L555.0,392.4 L556.0,392.4 L557.0,392.5 L557.9,392.5 L558.9,392.6 L559.9,392.6 L560.9,392.7 L561.9,392.8 L562.9,392.8 L563.9,392.9 L564.9,392.9 L565.9,393.0 L566.9,393.0 L567.9,393.1 L568.9,393.1 L569.9,393.2 L570.9,393.3 L571.9,393.3 L572.9,393.4 L573.9,393.4 L574.9,393.5 L575.9,393.6 L576.8,393.6 L577.8,393.7 L578.8,393.8 L579.8,393.8 L580.8,393.9 L581.8,393.9 L582.8,394.0 L583.8,394.1 L584.8,394.1 L585.8,394.2 L586.8,394.3 L587.8,394.3 L588.8,394.4 L589.8,394.5 L590.8,394.5 L591.8,394.6 L592.8,394.7 L593.8,394.7 L594.7,394.8 L595.7,394.9 L596.7,395.0 L597.7,395.0 L598.7,395.1 L599.7,395.2 L600.7,395.2 L601.7,395.3 L602.7,395.4 L603.7,395.4 L604.7,395.5 L605.7,395.6 L606.7,395.7 L607.7,395.7 L608.7,395.8 L609.7,395.9 L610.7,395.9 L611.6,396.0 L612.6,396.1 L613.6,396.2 L614.6,396.2 L615.6,396.3 L616.6,396.4 L617.6,396.5 L618.6,396.5 L619.6,396.6 L620.6,396.7 L621.6,396.8 L622.6,396.8 L623.6,396.9 L624.6,397.0 L625.6,397.0 L626.6,397.1 L627.5,397.2 L628.5,397.3 L629.5,397.3 L630.5,397.4 L631.5,397.5 L632.5,397.6 L633.5,397.6 L634.5,397.7 L635.5,397.8 L636.5,397.9 L637.5,398.0 L638.5,398.0 L639.5,398.1 L640.5,398.2 L641.5,398.3 L642.4,398.3 L643.4,398.4 L644.4,398.5 L645.4,398.6 L646.4,398.6 L647.4,398.7 L648.4,398.8 L649.4,398.9 L650.4,398.9 L651.4,399.0 L652.4,399.1 L653.4,399.2 L654.4,399.2 L655.4,399.3 L656.3,399.4 L657.3,399.4 L658.3,399.5 L659.3,399.6 L660.3,399.7 L661.3,399.7 L662.3,399.8 L663.3,399.9 L664.3,399.9 L665.3,400.0 L666.3,400.1 L667.3,400.2 L668.3,400.2 L669.2,400.3 L670.2,400.4 L671.2,400.4 L672.2,400.5 L673.2,400.6 L674.2,400.6 L675.2,400.7 L676.2,400.8 L677.2,400.9 L678.2,400.9 L679.2,401.0 L680.2,401.1 L681.1,401.1 L682.1,401.2 L683.1,401.3 L684.1,401.3 L685.1,401.4 L686.1,401.5 L687.1,401.5 L688.1,401.6 L689.1,401.7 L690.1,401.8 L691.1,401.8 L692.0,401.9 L693.0,402.0 L694.0,402.0 L695.0,402.1 L696.0,402.2 L697.0,402.2 L698.0,402.3 L699.0,402.4 L700.0,402.4 L701.0,402.5 L702.0,402.6 L702.9,402.6 L703.9,402.7 L704.9,402.7 L705.9,402.8 L706.9,402.9 L707.9,402.9 L708.9,403.0 L709.9,403.1 L710.9,403.1 L711.8,403.2 L712.8,403.3 L713.8,403.3 L714.8,403.4 L715.8,403.4 L716.8,403.5 L717.8,403.6 L718.8,403.6 L719.8,403.7 L720.7,403.7 L721.7,403.8 L722.7,403.9 L723.7,403.9 L724.7,404.0 L725.7,404.0 L726.7,404.1 L727.7,404.2 L728.6,404.2 L729.6,404.3 L730.6,404.3 L731.6,404.4 L732.6,404.4 L733.6,404.5 L733.9,397.9 L733.0,397.8 L732.0,397.8 L731.0,397.7 L730.0,397.7 L729.0,397.6 L728.0,397.6 L727.1,397.5 L726.1,397.4 L725.1,397.4 L724.1,397.3 L723.1,397.3 L722.1,397.2 L721.1,397.2 L720.2,397.1 L719.2,397.0 L718.2,397.0 L717.2,396.9 L716.2,396.9 L715.2,396.8 L714.2,396.7 L713.2,396.7 L712.3,396.6 L711.3,396.5 L710.3,396.5 L709.3,396.4 L708.3,396.4 L707.3,396.3 L706.3,396.2 L705.3,396.2 L704.4,396.1 L703.4,396.0 L702.4,396.0 L701.4,395.9 L700.4,395.8 L699.4,395.8 L698.4,395.7 L697.4,395.6 L696.5,395.6 L695.5,395.5 L694.5,395.4 L693.5,395.4 L692.5,395.3 L691.5,395.2 L690.5,395.2 L689.5,395.1 L688.5,395.0 L687.5,395.0 L686.6,394.9 L685.6,394.8 L684.6,394.8 L683.6,394.7 L682.6,394.6 L681.6,394.6 L680.6,394.5 L679.6,394.4 L678.6,394.3 L677.6,394.3 L676.7,394.2 L675.7,394.1 L674.7,394.1 L673.7,394.0 L672.7,393.9 L671.7,393.9 L670.7,393.8 L669.7,393.7 L668.7,393.6 L667.7,393.6 L666.7,393.5 L665.8,393.4 L664.8,393.4 L663.8,393.3 L662.8,393.2 L661.8,393.1 L660.8,393.1 L659.8,393.0 L658.8,392.9 L657.8,392.9 L656.8,392.8 L655.8,392.7 L654.8,392.6 L653.8,392.6 L652.9,392.5 L651.9,392.4 L650.9,392.4 L649.9,392.3 L648.9,392.2 L647.9,392.2 L646.9,392.1 L645.9,392.0 L644.9,392.0 L643.9,391.9 L642.9,391.8 L641.9,391.8 L640.9,391.7 L639.9,391.6 L638.9,391.6 L637.9,391.5 L636.9,391.4 L636.0,391.4 L635.0,391.3 L634.0,391.2 L633.0,391.2 L632.0,391.1 L631.0,391.0 L630.0,391.0 L629.0,390.9 L628.0,390.8 L627.0,390.8 L626.0,390.7 L625.0,390.6 L624.0,390.6 L623.0,390.5 L622.0,390.4 L621.0,390.4 L620.0,390.3 L619.0,390.3 L618.0,390.2 L617.0,390.1 L616.1,390.1 L615.1,390.0 L614.1,389.9 L613.1,389.9 L612.1,389.8 L611.1,389.7 L610.1,389.7 L609.1,389.6 L608.1,389.6 L607.1,389.5 L606.1,389.4 L605.1,389.4 L604.1,389.3 L603.1,389.3 L602.1,389.2 L601.1,389.1 L600.1,389.1 L599.1,389.0 L598.1,389.0 L597.1,388.9 L596.1,388.8 L595.1,388.8 L594.1,388.7 L593.1,388.7 L592.1,388.6 L591.1,388.5 L590.1,388.5 L589.2,388.4 L588.2,388.4 L587.2,388.3 L586.2,388.3 L585.2,388.2 L584.2,388.1 L583.2,388.1 L582.2,388.0 L581.2,388.0 L580.2,387.9 L579.2,387.9 L578.2,387.8 L577.2,387.8 L576.2,387.7 L575.2,387.7 L574.2,387.6 L573.2,387.6 L572.2,387.5 L571.2,387.5 L570.2,387.4 L569.2,387.3 L568.2,387.3 L567.2,387.2 L566.2,387.2 L565.2,387.1 L564.2,387.1 L563.2,387.0 L562.2,387.0 L561.2,386.9 L560.2,386.9 L559.2,386.8 L558.2,386.8 L557.2,386.7 L556.2,386.7 L555.2,386.6 L554.3,386.6 L553.3,386.5 L552.3,386.5 L551.3,386.5 L550.3,386.4 L549.3,386.4 L548.3,386.3 L547.3,386.3 L546.3,386.2 L545.3,386.2 L544.3,386.1 L543.3,386.1 L542.3,386.1 L541.3,386.0 L540.3,386.0 L539.3,385.9 L538.3,385.9 L537.3,385.9 L536.3,385.8 L535.3,385.8 L534.3,385.7 L533.3,385.7 L532.3,385.7 L531.3,385.6 L530.3,385.6 L529.3,385.6 L528.3,385.5 L527.3,385.5 L526.3,385.5 L525.3,385.4 L524.3,385.4 L523.3,385.4 L522.3,385.3 L521.3,385.3 L520.3,385.3 L519.3,385.3 L518.3,385.2 L517.3,385.2 L516.3,385.2 L515.3,385.1 L514.4,385.1 L513.4,385.1 L512.4,385.1 L511.4,385.1 L510.4,385.0 L509.4,385.0 L508.4,385.0 L507.4,385.0 L506.4,384.9 L505.4,384.9 L504.4,384.9 L503.4,384.9 L502.4,384.9 L501.4,384.9 L500.4,384.8 L499.4,384.8 L498.4,384.8 L497.4,384.8 L496.4,384.8 L495.4,384.8 L494.4,384.7 L493.4,384.7 L492.4,384.7 L491.4,384.7 L490.4,384.7 L489.4,384.7 L488.4,384.7 L487.4,384.6 L486.4,384.6 L485.4,384.6 L484.4,384.6 L483.4,384.6 L482.4,384.6 L481.4,384.6 L480.5,384.6 L479.5,384.6 L478.5,384.6 L477.5,384.6 L476.5,384.6 L475.5,384.6 L474.5,384.6 L473.5,384.6 L472.5,384.6 L471.5,384.6 L470.5,384.6 L469.5,384.6 L468.5,384.6 L467.5,384.6 L466.5,384.6 L465.5,384.6 L464.5,384.6 L463.5,384.6 L462.5,384.6 L461.5,384.7 L460.5,384.7 L459.5,384.7 L458.5,384.7 L457.5,384.7 L456.5,384.7 L455.5,384.7 L454.5,384.8 L453.6,384.8 L452.6,384.8 L451.6,384.8 L450.6,384.8 L449.6,384.9 L448.6,384.9 L447.6,384.9 L446.6,384.9 L445.6,385.0 L444.6,385.0 L443.6,385.0 L442.6,385.0 L441.6,385.1 L440.6,385.1 L439.6,385.1 L438.6,385.2 L437.6,385.2 L436.6,385.2 L435.6,385.3 L434.6,385.3 L433.6,385.4 L432.7,385.4 L431.7,385.4 L430.7,385.5 L429.7,385.5 L428.7,385.6 L427.7,385.6 L426.7,385.7 L425.7,385.7 L424.7,385.7 L423.7,385.8 L422.7,385.8 L421.7,385.9 L420.7,386.0 L419.7,386.0 L418.7,386.1 L417.7,386.1 L416.7,386.2 L415.8,386.2 L414.8,386.3 L413.8,386.3 L412.8,386.4 L411.8,386.5 L410.8,386.5 L409.8,386.6 L408.8,386.6 L407.8,386.7 L406.8,386.8 L405.8,386.8 L404.8,386.9 L403.8,387.0 L402.8,387.1 L401.8,387.1 L400.9,387.2 L399.9,387.3 L398.9,387.4 L397.9,387.4 L396.9,387.5 L395.9,387.6 L394.9,387.7 L393.9,387.7 L392.9,387.8 L391.9,387.9 L390.9,388.0 L389.9,388.1 L388.9,388.2 L388.0,388.3 L387.0,388.4 L386.0,388.4 L385.0,388.5 L384.0,388.6 L383.0,388.7 L382.0,388.8 L381.0,388.9 L380.0,389.0 L379.0,389.1 L378.0,389.2 L377.0,389.3 L376.1,389.4 L375.1,389.5 L374.1,389.7 L373.1,389.8 L372.1,389.9 L371.1,390.0 L370.1,390.1 L369.1,390.2 L368.1,390.3 L367.1,390.4 L366.1,390.6 L365.2,390.7 L364.2,390.8 L363.2,390.9 L362.2,391.1 L361.2,391.2 L360.2,391.3 L359.2,391.4 L358.2,391.6 L357.2,391.7 L356.3,391.8 L355.3,392.0 L354.3,392.1 L353.3,392.2 L352.3,392.4 L351.3,392.5 L350.3,392.7 L349.3,392.8 L348.3,392.9 L347.4,393.1 L346.4,393.2 L345.4,393.4 L344.4,393.5 L343.4,393.7 L342.4,393.8 L341.4,394.0 L340.4,394.1 L339.4,394.3 L338.5,394.5 L337.5,394.6 L336.5,394.8 L335.5,395.0 L334.5,395.1 L333.5,395.3 L332.5,395.4 L331.6,395.6 L330.6,395.8 L329.6,396.0 L328.6,396.1 L327.6,396.3 L326.6,396.5 L325.6,396.7 L324.6,396.9 L323.7,397.0 L322.7,397.2 L321.7,397.4 L320.7,397.6 L319.7,397.8 L318.7,398.0 L317.8,398.2 L316.8,398.4 L315.8,398.6 L314.8,398.8 L313.8,399.0 L312.8,399.2 L311.9,399.4 L310.9,399.6 L309.9,399.8 L308.9,400.0 L307.9,400.2 L306.9,400.5 L306.0,400.7 L305.0,400.9 L304.0,401.1 L303.0,401.3 L302.0,401.6 L301.1,401.8 L300.1,402.0 L299.1,402.3 L298.1,402.5 L297.2,402.7 L296.2,403.0 L295.2,403.2 L294.2,403.4 L293.2,403.7 L292.3,403.9 L291.3,404.2 L290.3,404.4 L289.3,404.7 L288.4,404.9 L287.4,405.2 L286.4,405.4 L285.5,405.7 L284.5,406.0 L283.5,406.2 L282.5,406.5 L281.6,406.8 L280.6,407.0 L279.6,407.3 L278.7,407.6 L277.7,407.9 L276.7,408.1 L275.8,408.4 L274.8,408.7 L273.8,409.0 L272.9,409.3 L271.9,409.6 L271.0,409.8 L270.0,410.1 L269.0,410.4 L268.1,410.7 L267.1,411.0 L266.2,411.3 L265.2,411.6 L264.2,411.9 L263.3,412.3 L262.3,412.6 L261.4,412.9 L260.4,413.2 L259.5,413.5 L258.5,413.8 L257.6,414.2 L256.6,414.5 L255.7,414.8 L254.7,415.2 L253.8,415.5 L252.8,415.8 L251.9,416.2 L250.9,416.5 L250.0,416.8 L249.0,417.2 L248.1,417.5 L247.2,417.9 L246.2,418.2 L245.3,418.6 L244.3,419.0 L243.4,419.3 L242.5,419.7 L241.5,420.0 L240.6,420.4 L239.7,420.8 L238.7,421.2 L237.8,421.5 L236.9,421.9 L236.0,422.3 L235.0,422.7 L234.1,423.1 L233.2,423.5 L232.3,423.9 L231.3,424.2 L230.4,424.6 L229.5,425.0 L228.6,425.4 L227.7,425.9 L226.7,426.3 L225.8,426.7 L224.9,427.1 L224.0,427.5 L223.1,427.9 L222.2,428.4 L221.3,428.8 L220.4,429.2 L219.5,429.6 L218.6,430.1 L217.6,430.5 L216.7,431.0 L215.8,431.4 L214.9,431.8 L214.1,432.3 L213.2,432.7 L212.3,433.2 L211.4,433.7 L210.5,434.1 L209.6,434.6 L208.7,435.1 L207.8,435.5 L206.9,436.0 L206.0,436.5 L205.2,436.9 L204.3,437.4 L203.4,437.9 L202.5,438.4 L201.6,438.9 L200.8,439.4 L199.9,439.9 L199.0,440.4 L198.2,440.9 L197.3,441.4 L196.4,441.9 L195.6,442.4 L194.7,442.9 L193.8,443.5 L193.0,444.0 L192.1,444.5 L191.3,445.0 L190.4,445.6 L189.5,446.1 L188.7,446.6 L187.8,447.2 L187.0,447.7 L186.2,448.3 L185.3,448.8 L184.5,449.4 L183.6,449.9 L182.8,450.5 L181.9,451.0 L181.1,451.6 L180.3,452.1 L179.4,452.7 L178.6,453.3 L177.8,453.8 L177.0,454.4 L176.1,455.0 L175.3,455.6 L174.5,456.2 L173.7,456.7 L172.8,457.3 L172.0,457.9 L171.2,458.5 L170.4,459.1 L169.6,459.7 L168.8,460.3 L168.0,460.9 L167.2,461.5 L166.4,462.1 L165.5,462.7 L164.7,463.3 L163.9,463.9 L163.1,464.5 L162.3,465.2 L161.6,465.8 L160.8,466.4 L160.0,467.0 L159.2,467.6 L158.4,468.3 L157.6,468.9 L156.8,469.5 L156.0,470.2 L155.3,470.8 L154.5,471.4 L153.7,472.1 L152.9,472.7 L152.1,473.4 L151.4,474.0 L150.6,474.7 L149.8,475.3 L149.1,476.0 L148.3,476.6 L147.5,477.3 L146.8,477.9 L146.0,478.6 L145.2,479.2 L144.5,479.9 L143.7,480.6 L143.0,481.2 L142.2,481.9 L141.5,482.6 L140.7,483.3 L140.0,483.9 L139.2,484.6 L138.5,485.3 L137.7,486.0 L137.0,486.7 L136.3,487.3 L135.5,488.0 L134.8,488.7 L134.1,489.4 L133.3,490.1 L132.6,490.8 L131.9,491.5 L131.2,492.2 L130.5,493.0 L129.8,493.7 L129.0,494.4 L128.3,495.1 L127.6,495.8 L126.9,496.6 L126.3,497.3 L125.6,498.1 L124.9,498.8 L124.2,499.5 L123.5,500.3 L122.9,501.1 L122.2,501.8 L121.5,502.6 L120.9,503.3 L120.2,504.1 L119.6,504.9 L118.9,505.7 L118.3,506.5 L117.7,507.3 L117.1,508.1 L116.4,508.9 L115.8,509.7 L115.2,510.5 L114.6,511.3 L114.0,512.1 L113.4,513.0 L112.9,513.8 L112.3,514.6 L111.7,515.5 L111.2,516.3 L110.6,517.2 L110.1,518.0 L109.5,518.9 L109.0,519.8 L108.5,520.7 L108.0,521.5 L107.5,522.4 L107.0,523.3 L106.5,524.2 L106.0,525.1 L105.5,526.0 L105.0,526.8 L104.6,527.7 L104.1,528.6 L103.6,529.5 L103.2,530.4 L102.7,531.3 L102.3,532.2 L101.8,533.1 L101.3,533.9 L100.9,534.8 L100.4,535.7 L100.0,536.6 L99.5,537.4 L99.1,538.3 L98.6,539.2 L98.1,540.0 L97.7,540.9 L97.2,541.7 L96.7,542.6 L96.2,543.4 L95.7,544.2 L95.2,545.1 L94.7,545.9 L94.2,546.7 L93.7,547.5 L93.2,548.3 L92.7,549.1Z" fill="#ff6600" stroke="none"/>
<path d="M99.5,551.1 L99.5,550.1 L99.6,549.0 L99.6,547.9 L99.6,546.9 L99.7,545.8 L99.7,544.8 L99.8,543.8 L99.9,542.7 L100.0,541.7 L100.1,540.7 L100.2,539.6 L100.3,538.6 L100.4,537.6 L100.6,536.6 L100.7,535.5 L100.9,534.5 L101.1,533.5 L101.3,532.5 L101.4,531.5 L101.6,530.5 L101.9,529.5 L102.1,528.5 L102.3,527.5 L102.6,526.5 L102.8,525.5 L103.1,524.5 L103.3,523.5 L103.6,522.6 L103.9,521.6 L104.2,520.6 L104.5,519.6 L104.8,518.7 L105.2,517.7 L105.5,516.7 L105.8,515.8 L106.2,514.8 L106.6,513.9 L106.9,512.9 L107.3,512.0 L107.7,511.0 L108.1,510.1 L108.5,509.1 L108.9,508.2 L109.3,507.2 L109.7,506.3 L110.2,505.4 L110.6,504.5 L111.1,503.5 L111.5,502.6 L112.0,501.7 L112.5,500.8 L113.0,499.9 L113.5,499.0 L113.9,498.0 L114.5,497.1 L115.0,496.2 L115.5,495.3 L116.0,494.4 L116.5,493.5 L117.1,492.7 L117.6,491.8 L118.2,490.9 L118.7,490.0 L119.3,489.1 L119.9,488.3 L120.4,487.4 L121.0,486.5 L121.6,485.6 L122.2,484.8 L122.8,483.9 L123.4,483.1 L124.0,482.2 L124.6,481.4 L125.3,480.5 L125.9,479.7 L126.5,478.8 L127.2,478.0 L127.8,477.1 L128.5,476.3 L129.1,475.5 L129.8,474.7 L130.4,473.8 L131.1,473.0 L131.7,472.2 L132.4,471.4 L133.1,470.6 L133.8,469.8 L134.5,469.0 L135.2,468.2 L135.8,467.4 L136.5,466.6 L137.2,465.8 L137.9,465.0 L138.6,464.2 L139.3,463.4 L140.1,462.7 L140.8,461.9 L141.5,461.1 L142.2,460.3 L142.9,459.6 L143.7,458.8 L144.4,458.1 L145.1,457.3 L145.8,456.6 L146.6,455.8 L147.3,455.1 L148.1,454.3 L148.8,453.6 L149.5,452.8 L150.3,452.1 L151.0,451.4 L151.8,450.7 L152.6,449.9 L153.3,449.2 L154.1,448.5 L154.8,447.8 L155.6,447.1 L156.4,446.4 L157.2,445.7 L157.9,445.0 L158.7,444.3 L159.5,443.6 L160.3,442.9 L161.1,442.2 L161.8,441.5 L162.6,440.8 L163.4,440.1 L164.2,439.5 L165.0,438.8 L165.8,438.1 L166.6,437.4 L167.4,436.8 L168.2,436.1 L169.1,435.4 L169.9,434.8 L170.7,434.1 L171.5,433.5 L172.3,432.8 L173.2,432.2 L174.0,431.5 L174.8,430.9 L175.6,430.2 L176.5,429.6 L177.3,428.9 L178.2,428.3 L179.0,427.7 L179.8,427.0 L180.7,426.4 L181.5,425.8 L182.4,425.1 L183.2,424.5 L184.1,423.9 L185.0,423.2 L185.8,422.6 L186.7,422.0 L187.6,421.3 L188.4,420.7 L189.3,420.1 L190.1,419.4 L191.0,418.8 L191.9,418.1 L192.7,417.5 L193.6,416.8 L194.4,416.2 L195.3,415.5 L196.2,414.9 L197.0,414.2 L197.8,413.6 L198.7,412.9 L199.5,412.3 L200.4,411.6 L201.2,411.0 L202.1,410.3 L202.9,409.7 L203.7,409.1 L204.6,408.4 L205.4,407.8 L206.3,407.2 L207.1,406.6 L208.0,405.9 L208.8,405.3 L209.7,404.7 L210.5,404.1 L211.4,403.5 L212.3,402.9 L213.1,402.3 L214.0,401.7 L214.9,401.1 L215.8,400.6 L216.7,400.0 L217.6,399.4 L218.4,398.8 L219.3,398.2 L220.2,397.6 L221.1,397.1 L222.0,396.5 L222.9,395.9 L223.8,395.4 L224.7,394.8 L225.6,394.2 L226.5,393.7 L227.4,393.1 L228.3,392.5 L229.2,392.0 L230.1,391.4 L231.1,390.9 L232.0,390.3 L232.9,389.7 L233.8,389.2 L234.7,388.6 L235.6,388.1 L236.5,387.5 L237.4,387.0 L238.3,386.5 L239.3,385.9 L240.2,385.4 L241.1,384.8 L242.0,384.3 L242.9,383.8 L243.8,383.2 L244.8,382.7 L245.7,382.2 L246.6,381.6 L247.5,381.1 L248.4,380.6 L249.4,380.1 L250.3,379.5 L251.2,379.0 L252.1,378.5 L253.1,378.0 L254.0,377.5 L254.9,377.0 L255.8,376.4 L256.8,375.9 L257.7,375.4 L258.6,374.9 L259.6,374.4 L260.5,373.9 L261.4,373.4 L262.4,372.9 L263.3,372.4 L264.2,371.9 L265.2,371.4 L266.1,370.9 L267.0,370.4 L268.0,369.9 L268.9,369.4 L269.8,368.9 L270.8,368.5 L271.7,368.0 L272.7,367.5 L273.6,367.0 L274.5,366.5 L275.5,366.0 L276.4,365.6 L277.4,365.1 L278.3,364.6 L279.3,364.1 L280.2,363.7 L281.2,363.2 L282.1,362.7 L283.1,362.3 L284.0,361.8 L285.0,361.3 L285.9,360.9 L286.9,360.4 L287.8,359.9 L288.8,359.5 L289.7,359.0 L290.7,358.6 L291.6,358.1 L292.6,357.7 L293.5,357.2 L294.5,356.8 L295.4,356.3 L296.4,355.9 L297.4,355.4 L298.3,355.0 L299.3,354.5 L300.2,354.1 L301.2,353.7 L302.2,353.2 L303.1,352.8 L304.1,352.4 L305.1,351.9 L306.0,351.5 L307.0,351.1 L307.9,350.6 L308.9,350.2 L309.9,349.8 L310.8,349.4 L311.8,348.9 L312.8,348.5 L313.8,348.1 L314.7,347.7 L315.7,347.3 L316.7,346.9 L317.6,346.4 L318.6,346.0 L319.6,345.6 L320.6,345.2 L321.5,344.8 L322.5,344.4 L323.5,344.0 L324.5,343.6 L325.4,343.2 L326.4,342.8 L327.4,342.4 L328.4,342.0 L329.3,341.6 L330.3,341.2 L331.3,340.8 L332.3,340.4 L333.3,340.0 L334.2,339.6 L335.2,339.2 L336.2,338.9 L337.2,338.5 L338.2,338.1 L339.2,337.7 L340.2,337.3 L341.1,336.9 L342.1,336.6 L343.1,336.2 L344.1,335.8 L345.1,335.4 L346.1,335.1 L347.1,334.7 L348.1,334.3 L349.0,333.9 L350.0,333.6 L351.0,333.2 L352.0,332.8 L353.0,332.5 L354.0,332.1 L355.0,331.8 L356.0,331.4 L357.0,331.0 L358.0,330.7 L359.0,330.3 L360.0,330.0 L361.0,329.6 L362.0,329.3 L363.0,328.9 L364.0,328.6 L365.0,328.2 L366.0,327.9 L367.0,327.5 L368.0,327.2 L369.0,326.8 L370.0,326.5 L371.0,326.1 L372.0,325.8 L373.0,325.5 L374.0,325.1 L375.0,324.8 L376.0,324.5 L377.0,324.1 L378.0,323.8 L379.0,323.5 L380.0,323.1 L381.0,322.8 L382.0,322.5 L383.0,322.1 L384.0,321.8 L385.0,321.5 L386.0,321.2 L387.0,320.9 L388.1,320.5 L389.1,320.2 L390.1,319.9 L391.1,319.6 L392.1,319.3 L393.1,318.9 L394.1,318.6 L395.1,318.3 L396.1,318.0 L397.2,317.7 L398.2,317.4 L399.2,317.1 L400.2,316.8 L401.2,316.5 L402.2,316.2 L403.3,315.9 L404.3,315.6 L405.3,315.3 L406.3,315.0 L407.3,314.7 L408.3,314.4 L409.4,314.1 L410.4,313.8 L411.4,313.5 L412.4,313.2 L413.4,312.9 L414.5,312.6 L415.5,312.3 L416.5,312.0 L417.5,311.8 L418.5,311.5 L419.6,311.2 L420.6,310.9 L421.6,310.6 L422.6,310.3 L423.7,310.1 L424.7,309.8 L425.7,309.5 L426.7,309.2 L427.8,309.0 L428.8,308.7 L429.8,308.4 L430.8,308.1 L431.9,307.9 L432.9,307.6 L433.9,307.3 L435.0,307.1 L436.0,306.8 L437.0,306.5 L438.0,306.3 L439.1,306.0 L440.1,305.7 L441.1,305.5 L442.2,305.2 L443.2,305.0 L444.2,304.7 L445.3,304.4 L446.3,304.2 L447.3,303.9 L448.4,303.7 L449.4,303.4 L450.4,303.2 L451.5,302.9 L452.5,302.7 L453.5,302.4 L454.6,302.2 L455.6,301.9 L456.6,301.7 L457.7,301.4 L458.7,301.2 L459.7,300.9 L460.8,300.7 L461.8,300.5 L462.8,300.2 L463.9,300.0 L464.9,299.7 L466.0,299.5 L467.0,299.3 L468.0,299.0 L469.1,298.8 L470.1,298.6 L471.2,298.3 L472.2,298.1 L473.2,297.9 L474.3,297.6 L475.3,297.4 L476.4,297.2 L477.4,296.9 L478.4,296.7 L479.5,296.5 L480.5,296.3 L481.6,296.0 L482.6,295.8 L483.6,295.6 L484.7,295.4 L485.7,295.2 L486.8,294.9 L487.8,294.7 L488.9,294.5 L489.9,294.3 L491.0,294.1 L492.0,293.9 L493.0,293.6 L494.1,293.4 L495.1,293.2 L496.2,293.0 L497.2,292.8 L498.3,292.6 L499.3,292.4 L500.4,292.2 L501.4,292.0 L502.5,291.8 L503.5,291.6 L504.6,291.4 L505.6,291.2 L506.7,291.0 L507.7,290.8 L508.7,290.6 L509.8,290.4 L510.8,290.2 L511.9,290.0 L512.9,289.8 L514.0,289.6 L515.0,289.4 L516.1,289.2 L517.1,289.0 L518.2,288.8 L519.2,288.6 L520.3,288.4 L521.3,288.2 L522.4,288.0 L523.5,287.9 L524.5,287.7 L525.6,287.5 L526.6,287.3 L527.7,287.1 L528.7,286.9 L529.8,286.7 L530.8,286.6 L531.9,286.4 L532.9,286.2 L534.0,286.0 L535.0,285.8 L536.1,285.7 L537.1,285.5 L538.2,285.3 L539.2,285.1 L540.3,285.0 L541.4,284.8 L542.4,284.6 L543.5,284.4 L544.5,284.3 L545.6,284.1 L546.6,283.9 L547.7,283.7 L548.7,283.6 L549.8,283.4 L550.8,283.2 L551.9,283.1 L553.0,282.9 L554.0,282.7 L555.1,282.6 L556.1,282.4 L557.2,282.3 L558.2,282.1 L559.3,281.9 L560.4,281.8 L561.4,281.6 L562.5,281.4 L563.5,281.3 L564.6,281.1 L565.6,281.0 L566.7,280.8 L567.8,280.7 L568.8,280.5 L569.9,280.3 L570.9,280.2 L572.0,280.0 L573.0,279.9 L574.1,279.7 L575.2,279.6 L576.2,279.4 L577.3,279.3 L578.3,279.1 L579.4,279.0 L580.4,278.8 L581.5,278.7 L582.6,278.5 L583.6,278.4 L584.7,278.3 L585.7,278.1 L586.8,278.0 L587.9,277.8 L588.9,277.7 L590.0,277.5 L591.0,277.4 L592.1,277.3 L593.2,277.1 L594.2,277.0 L595.3,276.8 L596.3,276.7 L597.4,276.6 L598.4,276.4 L599.5,276.3 L600.6,276.2 L601.6,276.0 L602.7,275.9 L603.7,275.8 L604.8,275.6 L605.9,275.5 L606.9,275.4 L608.0,275.2 L609.0,275.1 L610.1,275.0 L611.2,274.8 L612.2,274.7 L613.3,274.6 L614.3,274.4 L615.4,274.3 L616.5,274.2 L617.5,274.1 L618.6,273.9 L619.6,273.8 L620.7,273.7 L621.8,273.6 L622.8,273.4 L623.9,273.3 L624.9,273.2 L626.0,273.1 L627.1,273.0 L628.1,272.8 L629.2,272.7 L630.2,272.6 L631.3,272.5 L632.4,272.4 L633.4,272.2 L634.5,272.1 L635.5,272.0 L636.6,271.9 L637.7,271.8 L638.7,271.7 L639.8,271.5 L640.8,271.4 L641.9,271.3 L642.9,271.2 L644.0,271.1 L645.1,271.0 L646.1,270.9 L647.2,270.7 L648.2,270.6 L649.3,270.5 L650.4,270.4 L651.4,270.3 L652.5,270.2 L653.5,270.1 L654.6,270.0 L655.6,269.9 L656.7,269.8 L657.8,269.7 L658.8,269.6 L659.9,269.4 L660.9,269.3 L662.0,269.2 L663.1,269.1 L664.1,269.0 L665.2,268.9 L666.2,268.8 L667.3,268.7 L668.3,268.6 L669.4,268.5 L670.5,268.4 L671.5,268.3 L672.6,268.2 L673.6,268.1 L674.7,268.0 L675.7,267.9 L676.8,267.8 L677.9,267.7 L678.9,267.6 L680.0,267.5 L681.0,267.4 L682.1,267.3 L683.1,267.2 L684.2,267.1 L685.2,267.0 L686.3,266.9 L687.4,266.8 L688.4,266.7 L689.5,266.6 L690.5,266.6 L691.6,266.5 L692.6,266.4 L693.7,266.3 L694.7,266.2 L695.8,266.1 L696.8,266.0 L697.9,265.9 L698.9,265.8 L700.0,265.7 L701.1,265.6 L702.1,265.5 L703.2,265.4 L704.2,265.4 L705.3,265.3 L706.3,265.2 L707.4,265.1 L708.4,265.0 L709.5,264.9 L710.5,264.8 L711.6,264.7 L712.6,264.6 L713.7,264.6 L714.7,264.5 L715.8,264.4 L716.8,264.3 L717.9,264.2 L718.9,264.1 L720.0,264.0 L721.0,264.0 L722.1,263.9 L723.1,263.8 L724.2,263.7 L725.2,263.6 L726.3,263.5 L727.3,263.5 L728.4,263.4 L729.4,263.3 L730.5,263.2 L731.5,263.1 L732.6,263.0 L733.6,263.0 L733.0,255.1 L731.9,255.2 L730.9,255.2 L729.8,255.3 L728.8,255.4 L727.7,255.5 L726.7,255.6 L725.6,255.7 L724.6,255.7 L723.5,255.8 L722.5,255.9 L721.4,256.0 L720.4,256.1 L719.3,256.2 L718.3,256.3 L717.2,256.3 L716.2,256.4 L715.1,256.5 L714.1,256.6 L713.0,256.7 L712.0,256.8 L710.9,256.9 L709.9,256.9 L708.8,257.0 L707.8,257.1 L706.7,257.2 L705.6,257.3 L704.6,257.4 L703.5,257.5 L702.5,257.6 L701.4,257.7 L700.4,257.8 L699.3,257.8 L698.3,257.9 L697.2,258.0 L696.2,258.1 L695.1,258.2 L694.0,258.3 L693.0,258.4 L691.9,258.5 L690.9,258.6 L689.8,258.7 L688.8,258.8 L687.7,258.9 L686.6,259.0 L685.6,259.1 L684.5,259.2 L683.5,259.3 L682.4,259.4 L681.4,259.4 L680.3,259.5 L679.2,259.6 L678.2,259.7 L677.1,259.8 L676.1,259.9 L675.0,260.0 L673.9,260.1 L672.9,260.2 L671.8,260.3 L670.8,260.4 L669.7,260.5 L668.6,260.6 L667.6,260.7 L666.5,260.9 L665.5,261.0 L664.4,261.1 L663.3,261.2 L662.3,261.3 L661.2,261.4 L660.2,261.5 L659.1,261.6 L658.0,261.7 L657.0,261.8 L655.9,261.9 L654.9,262.0 L653.8,262.1 L652.7,262.2 L651.7,262.3 L650.6,262.4 L649.5,262.6 L648.5,262.7 L647.4,262.8 L646.4,262.9 L645.3,263.0 L644.2,263.1 L643.2,263.2 L642.1,263.3 L641.0,263.5 L640.0,263.6 L638.9,263.7 L637.9,263.8 L636.8,263.9 L635.7,264.0 L634.7,264.2 L633.6,264.3 L632.5,264.4 L631.5,264.5 L630.4,264.6 L629.4,264.7 L628.3,264.9 L627.2,265.0 L626.2,265.1 L625.1,265.2 L624.0,265.4 L623.0,265.5 L621.9,265.6 L620.8,265.7 L619.8,265.8 L618.7,266.0 L617.7,266.1 L616.6,266.2 L615.5,266.3 L614.5,266.5 L613.4,266.6 L612.3,266.7 L611.3,266.9 L610.2,267.0 L609.1,267.1 L608.1,267.3 L607.0,267.4 L605.9,267.5 L604.9,267.6 L603.8,267.8 L602.8,267.9 L601.7,268.0 L600.6,268.2 L599.6,268.3 L598.5,268.5 L597.4,268.6 L596.4,268.7 L595.3,268.9 L594.2,269.0 L593.2,269.1 L592.1,269.3 L591.1,269.4 L590.0,269.6 L588.9,269.7 L587.9,269.9 L586.8,270.0 L585.7,270.1 L584.7,270.3 L583.6,270.4 L582.5,270.6 L581.5,270.7 L580.4,270.9 L579.4,271.0 L578.3,271.2 L577.2,271.3 L576.2,271.5 L575.1,271.6 L574.0,271.8 L573.0,271.9 L571.9,272.1 L570.9,272.2 L569.8,272.4 L568.7,272.5 L567.7,272.7 L566.6,272.8 L565.5,273.0 L564.5,273.2 L563.4,273.3 L562.4,273.5 L561.3,273.6 L560.2,273.8 L559.2,274.0 L558.1,274.1 L557.0,274.3 L556.0,274.4 L554.9,274.6 L553.9,274.8 L552.8,274.9 L551.7,275.1 L550.7,275.3 L549.6,275.4 L548.6,275.6 L547.5,275.8 L546.4,275.9 L545.4,276.1 L544.3,276.3 L543.2,276.5 L542.2,276.6 L541.1,276.8 L540.1,277.0 L539.0,277.2 L537.9,277.3 L536.9,277.5 L535.8,277.7 L534.8,277.9 L533.7,278.0 L532.6,278.2 L531.6,278.4 L530.5,278.6 L529.5,278.8 L528.4,279.0 L527.4,279.1 L526.3,279.3 L525.2,279.5 L524.2,279.7 L523.1,279.9 L522.1,280.1 L521.0,280.3 L519.9,280.5 L518.9,280.6 L517.8,280.8 L516.8,281.0 L515.7,281.2 L514.7,281.4 L513.6,281.6 L512.6,281.8 L511.5,282.0 L510.4,282.2 L509.4,282.4 L508.3,282.6 L507.3,282.8 L506.2,283.0 L505.2,283.2 L504.1,283.4 L503.1,283.6 L502.0,283.8 L500.9,284.0 L499.9,284.2 L498.8,284.4 L497.8,284.6 L496.7,284.8 L495.7,285.1 L494.6,285.3 L493.6,285.5 L492.5,285.7 L491.5,285.9 L490.4,286.1 L489.4,286.3 L488.3,286.6 L487.3,286.8 L486.2,287.0 L485.2,287.2 L484.1,287.4 L483.1,287.7 L482.0,287.9 L481.0,288.1 L479.9,288.3 L478.9,288.5 L477.8,288.8 L476.8,289.0 L475.7,289.2 L474.7,289.5 L473.6,289.7 L472.6,289.9 L471.5,290.1 L470.5,290.4 L469.4,290.6 L468.4,290.8 L467.3,291.1 L466.3,291.3 L465.2,291.6 L464.2,291.8 L463.2,292.0 L462.1,292.3 L461.1,292.5 L460.0,292.8 L459.0,293.0 L457.9,293.2 L456.9,293.5 L455.8,293.7 L454.8,294.0 L453.8,294.2 L452.7,294.5 L451.7,294.7 L450.6,295.0 L449.6,295.2 L448.5,295.5 L447.5,295.8 L446.5,296.0 L445.4,296.3 L444.4,296.5 L443.3,296.8 L442.3,297.0 L441.3,297.3 L440.2,297.6 L439.2,297.8 L438.2,298.1 L437.1,298.4 L436.1,298.6 L435.0,298.9 L434.0,299.2 L433.0,299.4 L431.9,299.7 L430.9,300.0 L429.9,300.3 L428.8,300.5 L427.8,300.8 L426.8,301.1 L425.7,301.4 L424.7,301.6 L423.7,301.9 L422.6,302.2 L421.6,302.5 L420.6,302.8 L419.5,303.1 L418.5,303.4 L417.5,303.6 L416.4,303.9 L415.4,304.2 L414.4,304.5 L413.3,304.8 L412.3,305.1 L411.3,305.4 L410.3,305.7 L409.2,306.0 L408.2,306.3 L407.2,306.6 L406.1,306.9 L405.1,307.2 L404.1,307.5 L403.1,307.8 L402.0,308.1 L401.0,308.4 L400.0,308.7 L399.0,309.0 L398.0,309.3 L396.9,309.6 L395.9,309.9 L394.9,310.3 L393.9,310.6 L392.8,310.9 L391.8,311.2 L390.8,311.5 L389.8,311.8 L388.8,312.2 L387.7,312.5 L386.7,312.8 L385.7,313.1 L384.7,313.4 L383.7,313.8 L382.6,314.1 L381.6,314.4 L380.6,314.8 L379.6,315.1 L378.6,315.4 L377.6,315.8 L376.6,316.1 L375.5,316.4 L374.5,316.8 L373.5,317.1 L372.5,317.4 L371.5,317.8 L370.5,318.1 L369.5,318.5 L368.5,318.8 L367.4,319.2 L366.4,319.5 L365.4,319.9 L364.4,320.2 L363.4,320.6 L362.4,320.9 L361.4,321.3 L360.4,321.6 L359.4,322.0 L358.4,322.3 L357.4,322.7 L356.4,323.1 L355.4,323.4 L354.4,323.8 L353.4,324.1 L352.4,324.5 L351.4,324.9 L350.4,325.2 L349.4,325.6 L348.4,326.0 L347.3,326.4 L346.4,326.7 L345.4,327.1 L344.4,327.5 L343.4,327.9 L342.4,328.2 L341.4,328.6 L340.4,329.0 L339.4,329.4 L338.4,329.8 L337.4,330.2 L336.4,330.5 L335.4,330.9 L334.4,331.3 L333.4,331.7 L332.4,332.1 L331.4,332.5 L330.4,332.9 L329.4,333.3 L328.4,333.7 L327.5,334.1 L326.5,334.5 L325.5,334.9 L324.5,335.3 L323.5,335.7 L322.5,336.1 L321.5,336.5 L320.5,336.9 L319.6,337.3 L318.6,337.8 L317.6,338.2 L316.6,338.6 L315.6,339.0 L314.6,339.4 L313.7,339.8 L312.7,340.3 L311.7,340.7 L310.7,341.1 L309.7,341.5 L308.8,342.0 L307.8,342.4 L306.8,342.8 L305.8,343.3 L304.9,343.7 L303.9,344.1 L302.9,344.6 L301.9,345.0 L301.0,345.4 L300.0,345.9 L299.0,346.3 L298.0,346.8 L297.1,347.2 L296.1,347.6 L295.1,348.1 L294.2,348.5 L293.2,349.0 L292.2,349.4 L291.3,349.9 L290.3,350.3 L289.3,350.8 L288.4,351.3 L287.4,351.7 L286.4,352.2 L285.5,352.6 L284.5,353.1 L283.5,353.6 L282.6,354.0 L281.6,354.5 L280.7,355.0 L279.7,355.4 L278.7,355.9 L277.8,356.4 L276.8,356.9 L275.9,357.3 L274.9,357.8 L274.0,358.3 L273.0,358.8 L272.0,359.3 L271.1,359.8 L270.1,360.2 L269.2,360.7 L268.2,361.2 L267.3,361.7 L266.3,362.2 L265.4,362.7 L264.4,363.2 L263.5,363.7 L262.5,364.2 L261.6,364.7 L260.6,365.2 L259.7,365.7 L258.8,366.2 L257.8,366.7 L256.9,367.2 L255.9,367.7 L255.0,368.2 L254.0,368.8 L253.1,369.3 L252.2,369.8 L251.2,370.3 L250.3,370.8 L249.4,371.3 L248.4,371.9 L247.5,372.4 L246.5,372.9 L245.6,373.5 L244.7,374.0 L243.7,374.5 L242.8,375.0 L241.9,375.6 L241.0,376.1 L240.0,376.7 L239.1,377.2 L238.2,377.7 L237.2,378.3 L236.3,378.8 L235.4,379.4 L234.5,379.9 L233.5,380.5 L232.6,381.0 L231.7,381.6 L230.8,382.1 L229.8,382.7 L228.9,383.3 L228.0,383.8 L227.1,384.4 L226.2,384.9 L225.2,385.5 L224.3,386.1 L223.4,386.6 L222.5,387.2 L221.6,387.8 L220.7,388.4 L219.8,388.9 L218.8,389.5 L217.9,390.1 L217.0,390.7 L216.1,391.3 L215.2,391.8 L214.3,392.4 L213.4,393.0 L212.5,393.6 L211.6,394.2 L210.7,394.8 L209.8,395.4 L208.9,396.0 L208.0,396.7 L207.1,397.3 L206.2,397.9 L205.3,398.5 L204.4,399.1 L203.5,399.8 L202.6,400.4 L201.8,401.1 L200.9,401.7 L200.0,402.3 L199.2,403.0 L198.3,403.6 L197.4,404.3 L196.6,404.9 L195.7,405.6 L194.9,406.3 L194.0,406.9 L193.2,407.6 L192.4,408.2 L191.5,408.8 L190.7,409.5 L189.8,410.1 L189.0,410.8 L188.2,411.4 L187.3,412.0 L186.5,412.7 L185.6,413.3 L184.8,413.9 L183.9,414.6 L183.0,415.2 L182.2,415.8 L181.3,416.5 L180.5,417.1 L179.6,417.7 L178.7,418.4 L177.9,419.0 L177.0,419.7 L176.1,420.3 L175.3,420.9 L174.4,421.6 L173.6,422.2 L172.7,422.9 L171.9,423.5 L171.0,424.2 L170.1,424.9 L169.3,425.5 L168.4,426.2 L167.6,426.9 L166.8,427.5 L165.9,428.2 L165.1,428.9 L164.3,429.5 L163.4,430.2 L162.6,430.9 L161.8,431.6 L160.9,432.3 L160.1,433.0 L159.3,433.7 L158.5,434.4 L157.7,435.1 L156.9,435.8 L156.0,436.5 L155.2,437.2 L154.4,437.9 L153.6,438.6 L152.8,439.3 L152.0,440.0 L151.2,440.8 L150.5,441.5 L149.7,442.2 L148.9,443.0 L148.1,443.7 L147.3,444.4 L146.5,445.2 L145.8,445.9 L145.0,446.7 L144.2,447.4 L143.5,448.2 L142.7,448.9 L141.9,449.7 L141.2,450.5 L140.4,451.2 L139.7,452.0 L138.9,452.8 L138.2,453.6 L137.4,454.3 L136.7,455.1 L135.9,455.9 L135.2,456.7 L134.5,457.5 L133.7,458.3 L133.0,459.1 L132.3,459.9 L131.5,460.7 L130.8,461.6 L130.1,462.4 L129.4,463.2 L128.7,464.0 L128.0,464.9 L127.3,465.7 L126.6,466.5 L125.9,467.4 L125.2,468.2 L124.5,469.1 L123.8,469.9 L123.1,470.8 L122.5,471.6 L121.8,472.5 L121.1,473.4 L120.5,474.2 L119.8,475.1 L119.2,476.0 L118.5,476.9 L117.9,477.8 L117.2,478.7 L116.6,479.6 L116.0,480.5 L115.3,481.4 L114.7,482.3 L114.1,483.2 L113.5,484.1 L112.9,485.0 L112.3,485.9 L111.7,486.8 L111.2,487.8 L110.6,488.7 L110.0,489.6 L109.5,490.6 L108.9,491.5 L108.4,492.5 L107.8,493.4 L107.3,494.4 L106.8,495.3 L106.3,496.3 L105.7,497.3 L105.2,498.2 L104.8,499.2 L104.3,500.2 L103.8,501.1 L103.3,502.1 L102.9,503.1 L102.4,504.1 L102.0,505.1 L101.5,506.1 L101.1,507.1 L100.7,508.1 L100.3,509.1 L99.9,510.1 L99.5,511.1 L99.1,512.2 L98.7,513.2 L98.3,514.2 L98.0,515.2 L97.6,516.3 L97.3,517.3 L97.0,518.3 L96.6,519.4 L96.3,520.4 L96.0,521.5 L95.7,522.5 L95.5,523.6 L95.2,524.7 L94.9,525.7 L94.7,526.8 L94.4,527.9 L94.2,528.9 L94.0,530.0 L93.8,531.1 L93.6,532.2 L93.4,533.3 L93.2,534.4 L93.1,535.5 L92.9,536.6 L92.8,537.7 L92.6,538.8 L92.5,539.9 L92.4,541.0 L92.3,542.1 L92.2,543.2 L92.1,544.3 L92.1,545.5 L92.0,546.6 L92.0,547.7 L92.0,548.9 L91.9,550.0 L91.9,551.1Z" fill="#00ffff" stroke="none"/>
</g><g clip-path="url(#cp2)">
<path d="M95.5,437.0 L95.5,435.7 L95.5,434.5 L95.6,433.2 L95.6,431.9 L95.6,430.6 L95.6,429.3 L95.6,428.1 L95.7,426.8 L95.7,425.5 L95.7,424.2 L95.7,423.0 L95.7,421.7 L95.7,420.4 L95.8,419.1 L95.8,417.8 L95.8,416.6 L95.8,415.3 L95.8,414.0 L95.8,412.7 L95.9,411.5 L95.9,410.2 L95.9,408.9 L95.9,407.6 L95.9,406.4 L95.9,405.1 L95.9,403.8 L95.9,402.6 L96.0,401.3 L96.0,400.0 L96.0,398.7 L96.0,397.5 L96.0,396.2 L96.0,394.9 L96.0,393.6 L96.0,392.4 L96.0,391.1 L96.1,389.8 L96.1,388.6 L96.1,387.3 L96.1,386.0 L96.1,384.7 L96.1,383.5 L96.1,382.2 L96.1,380.9 L96.1,379.7 L96.2,378.4 L96.2,377.1 L96.2,375.8 L96.2,374.6 L96.2,373.3 L96.2,372.0 L96.2,370.8 L96.2,369.5 L96.3,368.2 L96.3,366.9 L96.3,365.7 L96.3,364.4 L96.3,363.1 L96.3,361.9 L96.3,360.6 L96.4,359.3 L96.4,358.0 L96.4,356.8 L96.4,355.5 L96.4,354.2 L96.5,352.9 L96.5,351.7 L96.5,350.4 L96.5,349.1 L96.5,347.9 L96.6,346.6 L96.6,345.3 L96.6,344.0 L96.6,342.8 L96.7,341.5 L96.7,340.2 L96.7,338.9 L96.8,337.7 L96.8,336.4 L96.8,335.1 L96.9,333.8 L96.9,332.6 L96.9,331.3 L97.0,330.0 L97.0,328.8 L97.0,327.5 L97.1,326.2 L97.1,324.9 L97.2,323.6 L97.2,322.4 L97.2,321.1 L97.3,319.8 L97.3,318.5 L97.4,317.3 L97.4,316.0 L97.5,314.7 L97.5,313.4 L97.6,312.2 L97.6,310.9 L97.7,309.6 L97.8,308.3 L97.8,307.0 L97.9,305.8 L97.9,304.5 L98.0,303.2 L98.1,301.9 L98.1,300.6 L98.2,299.3 L98.3,298.1 L98.3,296.8 L98.4,295.5 L98.5,294.2 L98.6,292.9 L98.6,291.7 L98.7,290.4 L98.8,289.1 L98.9,287.8 L98.9,286.5 L99.0,285.2 L99.1,284.0 L99.2,282.7 L99.2,281.4 L99.3,280.1 L99.4,278.8 L99.5,277.5 L99.5,276.3 L99.6,275.0 L99.7,273.7 L99.8,272.4 L99.8,271.2 L99.9,269.9 L100.0,268.6 L100.0,267.3 L100.1,266.1 L100.2,264.8 L100.2,263.5 L100.3,262.2 L100.3,261.0 L100.4,259.7 L100.4,258.4 L100.5,257.2 L100.5,255.9 L100.6,254.6 L100.6,253.4 L100.6,252.1 L100.6,250.9 L100.7,249.6 L100.7,248.3 L100.7,247.1 L100.7,245.8 L100.7,244.6 L100.7,243.3 L100.7,242.1 L100.7,240.8 L100.7,239.6 L100.7,238.4 L100.7,237.1 L100.7,235.9 L100.7,234.6 L100.7,233.4 L100.6,232.2 L100.6,230.9 L100.7,229.7 L100.7,228.4 L100.7,227.2 L100.7,225.9 L100.8,224.7 L100.9,223.4 L101.0,222.1 L101.1,220.8 L101.2,219.5 L101.4,218.2 L101.5,216.9 L101.8,215.6 L102.0,214.3 L102.3,212.9 L102.6,211.6 L102.9,210.2 L103.3,208.9 L103.7,207.5 L104.2,206.2 L104.7,204.9 L105.2,203.6 L105.8,202.4 L106.4,201.3 L107.1,200.2 L107.8,199.2 L108.6,198.4 L109.4,197.6 L110.3,196.9 L111.3,196.3 L112.3,195.9 L113.3,195.6 L114.4,195.5 L115.5,195.5 L116.5,195.6 L117.6,195.8 L118.7,196.1 L119.8,196.5 L120.9,197.0 L121.9,197.6 L123.0,198.2 L124.1,198.9 L125.2,199.7 L126.3,200.5 L127.4,201.3 L128.5,202.1 L129.6,203.0 L130.6,203.9 L131.7,204.7 L132.8,205.6 L133.9,206.4 L134.9,207.2 L136.0,208.1 L137.1,208.9 L138.1,209.7 L139.2,210.5 L140.2,211.3 L141.3,212.1 L142.3,212.8 L143.4,213.6 L144.4,214.4 L145.5,215.1 L146.5,215.9 L147.6,216.6 L148.6,217.4 L149.6,218.1 L150.7,218.8 L151.7,219.6 L152.8,220.3 L153.8,221.0 L154.8,221.7 L155.9,222.4 L156.9,223.1 L158.0,223.8 L159.0,224.5 L160.0,225.2 L161.1,225.9 L162.1,226.6 L163.1,227.2 L164.2,227.9 L165.2,228.6 L166.3,229.3 L167.3,230.0 L168.4,230.6 L169.4,231.3 L170.5,232.0 L171.5,232.6 L172.6,233.3 L173.6,234.0 L174.7,234.7 L175.8,235.3 L176.8,236.0 L177.9,236.7 L179.0,237.3 L180.1,238.0 L181.1,238.7 L182.2,239.3 L183.3,240.0 L184.4,240.7 L185.5,241.4 L186.6,242.0 L187.7,242.7 L188.8,243.4 L189.9,244.0 L191.0,244.7 L192.2,245.4 L193.3,246.0 L194.4,246.7 L195.5,247.3 L196.7,247.9 L197.8,248.6 L198.9,249.2 L200.1,249.8 L201.2,250.4 L202.4,251.0 L203.5,251.6 L204.7,252.1 L205.8,252.7 L207.0,253.3 L208.1,253.8 L209.3,254.3 L210.5,254.8 L211.7,255.3 L212.8,255.8 L214.0,256.3 L215.2,256.8 L216.4,257.3 L217.6,257.7 L218.8,258.2 L219.9,258.6 L221.1,259.1 L222.3,259.5 L223.5,259.9 L224.7,260.3 L225.9,260.7 L227.1,261.1 L228.4,261.5 L229.6,261.9 L230.8,262.3 L232.0,262.6 L233.2,263.0 L234.4,263.4 L235.6,263.7 L236.8,264.1 L238.1,264.5 L239.3,264.8 L240.5,265.2 L241.7,265.5 L242.9,265.8 L244.2,266.2 L245.4,266.5 L246.6,266.8 L247.8,267.2 L249.1,267.5 L250.3,267.8 L251.5,268.1 L252.8,268.4 L254.0,268.8 L255.2,269.1 L256.5,269.4 L257.7,269.7 L258.9,270.0 L260.2,270.3 L261.4,270.6 L262.6,270.9 L263.9,271.2 L265.1,271.5 L266.3,271.7 L267.6,272.0 L268.8,272.3 L270.1,272.6 L271.3,272.9 L272.6,273.1 L273.8,273.4 L275.0,273.7 L276.3,273.9 L277.5,274.2 L278.8,274.5 L280.0,274.7 L281.3,275.0 L282.5,275.3 L283.8,275.5 L285.0,275.8 L286.3,276.0 L287.5,276.3 L288.8,276.5 L290.0,276.8 L291.3,277.0 L292.5,277.2 L293.8,277.5 L295.0,277.7 L296.3,278.0 L297.5,278.2 L298.8,278.4 L300.0,278.7 L301.3,278.9 L302.5,279.1 L303.8,279.4 L305.0,279.6 L306.3,279.8 L307.6,280.1 L308.8,280.3 L310.1,280.5 L311.3,280.7 L312.6,281.0 L313.8,281.2 L315.1,281.4 L316.4,281.6 L317.6,281.8 L318.9,282.0 L320.1,282.3 L321.4,282.5 L322.6,282.7 L323.9,282.9 L325.2,283.1 L326.4,283.3 L327.7,283.6 L328.9,283.8 L330.2,284.0 L331.5,284.2 L332.7,284.4 L334.0,284.6 L335.2,284.8 L336.5,285.0 L337.8,285.2 L339.0,285.4 L340.3,285.7 L341.5,285.9 L342.8,286.1 L344.1,286.3 L345.3,286.5 L346.6,286.7 L347.8,286.9 L349.1,287.1 L350.3,287.3 L351.6,287.5 L352.9,287.7 L354.1,288.0 L355.4,288.2 L356.6,288.4 L357.9,288.6 L359.2,288.8 L360.4,289.0 L361.7,289.2 L362.9,289.4 L364.2,289.6 L365.4,289.8 L366.7,290.0 L368.0,290.2 L369.2,290.5 L370.5,290.7 L371.7,290.9 L373.0,291.1 L374.3,291.3 L375.5,291.5 L376.8,291.7 L378.0,291.9 L379.3,292.1 L380.5,292.3 L381.8,292.5 L383.1,292.7 L384.3,292.9 L385.6,293.1 L386.8,293.3 L388.1,293.5 L389.3,293.8 L390.6,294.0 L391.9,294.2 L393.1,294.4 L394.4,294.6 L395.6,294.8 L396.9,295.0 L398.1,295.2 L399.4,295.4 L400.7,295.6 L401.9,295.8 L403.2,296.0 L404.4,296.2 L405.7,296.4 L407.0,296.6 L408.2,296.8 L409.5,297.0 L410.7,297.2 L412.0,297.4 L413.2,297.6 L414.5,297.8 L415.8,298.0 L417.0,298.2 L418.3,298.4 L419.5,298.6 L420.8,298.8 L422.0,299.0 L423.3,299.2 L424.6,299.4 L425.8,299.6 L427.1,299.8 L428.3,300.0 L429.6,300.2 L430.8,300.4 L432.1,300.6 L433.4,300.8 L434.6,301.0 L435.9,301.2 L437.1,301.4 L438.4,301.6 L439.7,301.8 L440.9,302.0 L442.2,302.2 L443.4,302.4 L444.7,302.6 L445.9,302.8 L447.2,303.0 L448.5,303.2 L449.7,303.4 L451.0,303.6 L452.2,303.8 L453.5,304.0 L454.8,304.1 L456.0,304.3 L457.3,304.5 L458.5,304.7 L459.8,304.9 L461.0,305.1 L462.3,305.3 L463.6,305.5 L464.8,305.7 L466.1,305.9 L467.3,306.1 L468.6,306.3 L469.9,306.5 L471.1,306.6 L472.4,306.8 L473.6,307.0 L474.9,307.2 L476.2,307.4 L477.4,307.6 L478.7,307.8 L479.9,308.0 L481.2,308.2 L482.5,308.3 L483.7,308.5 L485.0,308.7 L486.2,308.9 L487.5,309.1 L488.8,309.3 L490.0,309.5 L491.3,309.7 L492.5,309.8 L493.8,310.0 L495.1,310.2 L496.3,310.4 L497.6,310.6 L498.8,310.8 L500.1,310.9 L501.4,311.1 L502.6,311.3 L503.9,311.5 L505.1,311.7 L506.4,311.9 L507.7,312.1 L508.9,312.2 L510.2,312.4 L511.5,312.6 L512.7,312.8 L514.0,313.0 L515.2,313.1 L516.5,313.3 L517.8,313.5 L519.0,313.7 L520.3,313.9 L521.5,314.0 L522.8,314.2 L524.1,314.4 L525.3,314.6 L526.6,314.8 L527.9,314.9 L529.1,315.1 L530.4,315.3 L531.6,315.5 L532.9,315.7 L534.2,315.8 L535.4,316.0 L536.7,316.2 L538.0,316.4 L539.2,316.6 L540.5,316.7 L541.7,316.9 L543.0,317.1 L544.3,317.3 L545.5,317.4 L546.8,317.6 L548.0,317.8 L549.3,318.0 L550.6,318.1 L551.8,318.3 L553.1,318.5 L554.4,318.7 L555.6,318.8 L556.9,319.0 L558.1,319.2 L559.4,319.4 L560.7,319.5 L561.9,319.7 L563.2,319.9 L564.5,320.1 L565.7,320.2 L567.0,320.4 L568.3,320.6 L569.5,320.8 L570.8,320.9 L572.0,321.1 L573.3,321.3 L574.6,321.4 L575.8,321.6 L577.1,321.8 L578.4,322.0 L579.6,322.1 L580.9,322.3 L582.1,322.5 L583.4,322.7 L584.7,322.8 L585.9,323.0 L587.2,323.2 L588.5,323.3 L589.7,323.5 L591.0,323.7 L592.3,323.8 L593.5,324.0 L594.8,324.2 L596.0,324.4 L597.3,324.5 L598.6,324.7 L599.8,324.9 L601.1,325.0 L602.4,325.2 L603.6,325.4 L604.9,325.5 L606.2,325.7 L607.4,325.9 L608.7,326.1 L609.9,326.2 L611.2,326.4 L612.5,326.6 L613.7,326.7 L615.0,326.9 L616.3,327.1 L617.5,327.2 L618.8,327.4 L620.1,327.6 L621.3,327.7 L622.6,327.9 L623.8,328.1 L625.1,328.2 L626.4,328.4 L627.6,328.6 L628.9,328.7 L630.2,328.9 L631.4,329.1 L632.7,329.2 L634.0,329.4 L635.2,329.6 L636.5,329.7 L637.7,329.9 L639.0,330.1 L640.3,330.2 L641.5,330.4 L642.8,330.6 L644.1,330.7 L645.3,330.9 L646.6,331.1 L647.9,331.2 L649.1,331.4 L650.4,331.6 L651.6,331.7 L652.9,331.9 L654.2,332.1 L655.4,332.2 L656.7,332.4 L658.0,332.6 L659.2,332.7 L660.5,332.9 L661.8,333.1 L663.0,333.2 L664.3,333.4 L665.5,333.6 L666.8,333.7 L668.1,333.9 L669.3,334.1 L670.6,334.2 L671.9,334.4 L673.1,334.6 L674.4,334.7 L675.6,334.9 L676.9,335.1 L678.2,335.2 L679.4,335.4 L680.7,335.6 L682.0,335.7 L683.2,335.9 L684.5,336.0 L685.8,336.2 L687.0,336.4 L688.3,336.5 L689.5,336.7 L690.8,336.9 L692.1,337.0 L693.3,337.2 L694.6,337.4 L695.9,337.5 L697.1,337.7 L698.4,337.9 L699.7,338.0 L700.9,338.2 L702.2,338.4 L703.4,338.5 L704.7,338.7 L706.0,338.9 L707.2,339.0 L708.5,339.2 L709.8,339.3 L711.0,339.5 L712.3,339.7 L713.5,339.8 L714.8,340.0 L716.1,340.2 L717.3,340.3 L718.6,340.5 L719.9,340.7 L721.1,340.8 L722.4,341.0 L723.6,341.2 L724.9,341.3 L726.2,341.5 L727.4,341.7 L728.7,341.8 L730.0,342.0 L731.2,342.2 L732.5,342.3" fill="none" stroke="#800000" stroke-width="5.7" stroke-linecap="butt" stroke-linejoin="round"/>
</g>
<rect x="92.8" y="356.7" width="1.3" height="3.6" fill="#f27fe4"/>
<rect x="92.8" y="370.9" width="1.3" height="3.6" fill="#f27fe4"/>
<rect x="92.8" y="382.2" width="1.3" height="3.6" fill="#f27fe4"/>
<rect x="92.8" y="394.6" width="1.3" height="3.6" fill="#f27fe4"/>
<rect x="92.8" y="410.7" width="1.3" height="3.6" fill="#f27fe4"/>
<rect x="92.8" y="434.5" width="1.3" height="3.6" fill="#f27fe4"/>
<text x="360.6" y="146.4" font-size="23.8" textLength="60" lengthAdjust="spacingAndGlyphs" text-anchor="start" fill="#1a1a1a">Total</text>
<text x="586.6" y="239.5" font-size="23.8" textLength="53.5" lengthAdjust="spacingAndGlyphs" text-anchor="start" fill="#1a1a1a">Halo</text>
<text x="159.2" y="322.5" font-size="23.8" textLength="66.5" lengthAdjust="spacingAndGlyphs" text-anchor="start" fill="#1a1a1a">Bulge</text>
<text x="536.3" y="367.4" font-size="23.8" textLength="153" lengthAdjust="spacingAndGlyphs" text-anchor="start" fill="#1a1a1a">Disc + Bulge</text>
<text x="350.8" y="437.8" font-size="23.8" textLength="50" lengthAdjust="spacingAndGlyphs" text-anchor="start" fill="#1a1a1a">Disc</text>
<rect x="108" y="79" width="83.6" height="472" fill="rgba(150,195,0,0.2)"/>
<rect x="96" y="79" width="12" height="472" fill="rgba(170,213,47,0.65)"/>
<rect x="535.5" y="79.5" width="39.5" height="471.5" fill="rgba(150,195,0,0.2)" stroke="#000" stroke-width="1.2"/>
<rect x="678.5" y="79.5" width="39.5" height="471.5" fill="rgba(150,195,0,0.2)" stroke="#000" stroke-width="1.2"/>
<rect x="93.8" y="76.8" width="3.1" height="475.4" fill="#000"/>
<rect x="93.8" y="76.8" width="97.7" height="2.4" fill="#000"/>
<rect x="107.4" y="78" width="1.4" height="474" fill="#000"/>
<rect x="95" y="550.6" width="13.8" height="1.5" fill="#000"/>
<text x="78.6" y="559.9" font-size="21.8" textLength="12.6" lengthAdjust="spacingAndGlyphs" text-anchor="end" fill="#1a1a1a">0</text>
<text x="78.6" y="492.5" font-size="21.8" textLength="26" lengthAdjust="spacingAndGlyphs" text-anchor="end" fill="#1a1a1a">50</text>
<text x="78.6" y="425.0" font-size="21.8" textLength="40.4" lengthAdjust="spacingAndGlyphs" text-anchor="end" fill="#1a1a1a">100</text>
<text x="78.6" y="357.6" font-size="21.8" textLength="40.4" lengthAdjust="spacingAndGlyphs" text-anchor="end" fill="#1a1a1a">150</text>
<text x="78.6" y="290.2" font-size="21.8" textLength="40.4" lengthAdjust="spacingAndGlyphs" text-anchor="end" fill="#1a1a1a">200</text>
<text x="78.6" y="222.8" font-size="21.8" textLength="40.4" lengthAdjust="spacingAndGlyphs" text-anchor="end" fill="#1a1a1a">250</text>
<text x="78.6" y="155.3" font-size="21.8" textLength="40.4" lengthAdjust="spacingAndGlyphs" text-anchor="end" fill="#1a1a1a">300</text>
<text x="78.6" y="87.9" font-size="21.8" textLength="40.4" lengthAdjust="spacingAndGlyphs" text-anchor="end" fill="#1a1a1a">350</text>
<text x="95.5" y="589.8" font-size="21.8" textLength="12.6" lengthAdjust="spacingAndGlyphs" text-anchor="middle" fill="#1a1a1a">0</text>
<text x="254.2" y="589.8" font-size="21.8" textLength="26" lengthAdjust="spacingAndGlyphs" text-anchor="middle" fill="#1a1a1a">10</text>
<text x="413.0" y="589.8" font-size="21.8" textLength="26" lengthAdjust="spacingAndGlyphs" text-anchor="middle" fill="#1a1a1a">20</text>
<text x="571.8" y="589.8" font-size="21.8" textLength="26" lengthAdjust="spacingAndGlyphs" text-anchor="middle" fill="#1a1a1a">30</text>
<text x="729.0" y="589.8" font-size="21.8" textLength="26" lengthAdjust="spacingAndGlyphs" text-anchor="middle" fill="#1a1a1a">40</text>
<text x="377" y="29.6" font-size="24.3" textLength="227.5" lengthAdjust="spacingAndGlyphs" text-anchor="middle" fill="#111" font-weight="bold" stroke="#111" stroke-width="0.45">Circular Rotation</text>
<text x="319" y="624.8" font-size="20.8" textLength="78.5" lengthAdjust="spacingAndGlyphs" text-anchor="start" fill="#111" font-weight="bold" stroke="#111" stroke-width="0.45">Radius</text>
<text x="407.6" y="624.8" font-size="20.8" textLength="98" lengthAdjust="spacingAndGlyphs" text-anchor="start" fill="#111" font-weight="bold" stroke="#111" stroke-width="0.45">(Arcsec)</text>
<text x="0" y="0" font-size="20.8" textLength="102.5" lengthAdjust="spacingAndGlyphs" text-anchor="start" fill="#111" font-weight="bold" stroke="#111" stroke-width="0.45" transform="translate(24.9,451.8) rotate(-90)">Rotation</text>
<text x="0" y="0" font-size="20.8" textLength="71" lengthAdjust="spacingAndGlyphs" text-anchor="start" fill="#111" font-weight="bold" stroke="#111" stroke-width="0.45" transform="translate(24.9,344.7) rotate(-90)">speed</text>
<text x="0" y="0" font-size="20.8" textLength="87.2" lengthAdjust="spacingAndGlyphs" text-anchor="start" fill="#111" font-weight="bold" stroke="#111" stroke-width="0.45" transform="translate(24.9,264.9) rotate(-90)">(km/s)</text>
</svg>
</body></html>
